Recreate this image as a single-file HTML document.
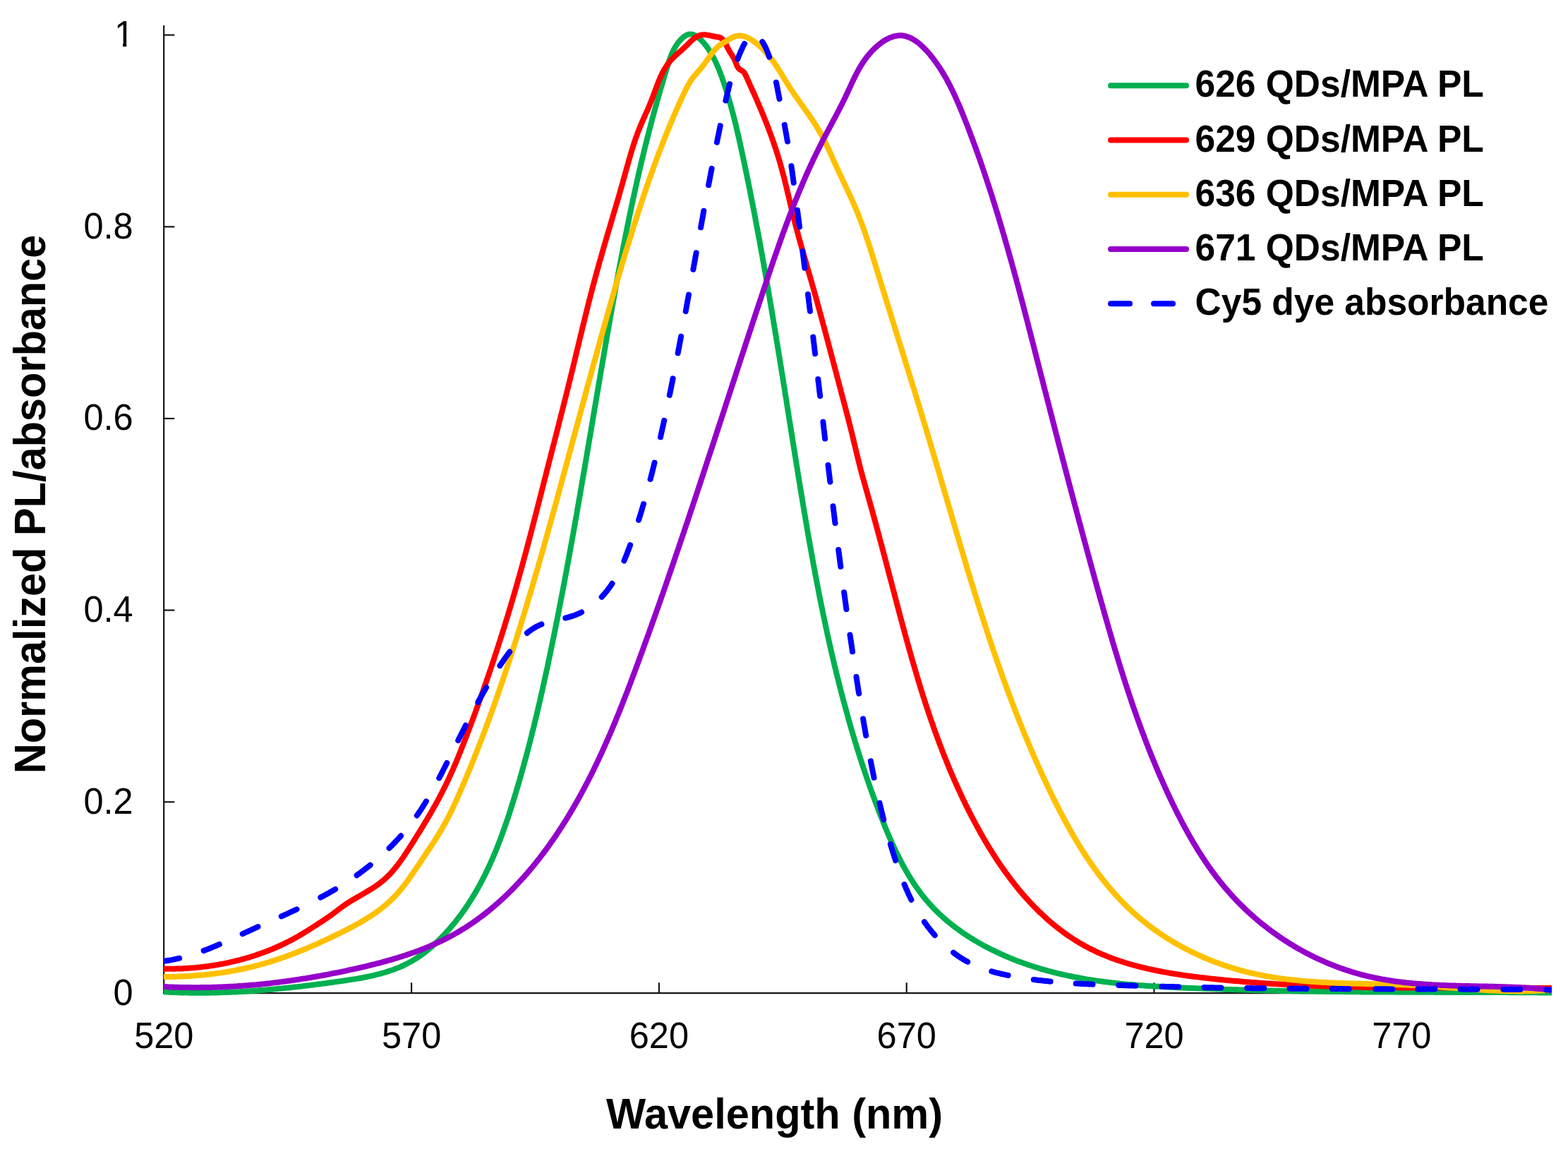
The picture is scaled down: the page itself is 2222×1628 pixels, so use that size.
<!DOCTYPE html><html><head><meta charset="utf-8"><title>Normalized PL/absorbance</title>
<style>html,body{margin:0;padding:0;background:#fff;overflow:hidden;width:2222px;height:1628px;}svg{display:block;font-family:"Liberation Sans",Arial,sans-serif;}</style></head><body>
<svg width="2222" height="1628" viewBox="0 0 2222 1628">
<rect width="2222" height="1628" fill="#fff"/>
<defs><clipPath id="pa"><rect x="232" y="0" width="1967" height="1420"/></clipPath></defs>
<g stroke="#161616" stroke-width="2.2" fill="none">
<path d="M232.2,36 V1407.2 H2199"/>
<path d="M232.2,1136.3 H247.3"/>
<path d="M232.2,864.6 H247.3"/>
<path d="M232.2,593.0 H247.3"/>
<path d="M232.2,321.3 H247.3"/>
<path d="M232.2,49.6 H247.3"/>
<path d="M583.1,1407.2 V1392.3"/>
<path d="M933.9,1407.2 V1392.3"/>
<path d="M1284.7,1407.2 V1392.3"/>
<path d="M1635.5,1407.2 V1392.3"/>
<path d="M1986.3,1407.2 V1392.3"/>
</g>
<g font-size="50.5" fill="#000" text-anchor="end">
<text transform="translate(188.6,1424.3) scale(1,1.04)">0</text>
<text transform="translate(188.6,1152.6) scale(1,1.04)">0.2</text>
<text transform="translate(188.6,880.9) scale(1,1.04)">0.4</text>
<text transform="translate(188.6,609.3) scale(1,1.04)">0.6</text>
<text transform="translate(188.6,337.6) scale(1,1.04)">0.8</text>
<text transform="translate(190.0,65.9) scale(1,1.04)">1</text>
</g>
<rect x="163" y="61.6" width="11.2" height="5.5" fill="#fff"/><rect x="179.3" y="61.6" width="9" height="5.5" fill="#fff"/>
<g font-size="50.5" fill="#000" text-anchor="middle">
<text transform="translate(232.3,1485.0) scale(1,1.04)">520</text>
<text transform="translate(583.1,1485.0) scale(1,1.04)">570</text>
<text transform="translate(933.9,1485.0) scale(1,1.04)">620</text>
<text transform="translate(1284.7,1485.0) scale(1,1.04)">670</text>
<text transform="translate(1635.5,1485.0) scale(1,1.04)">720</text>
<text transform="translate(1986.3,1485.0) scale(1,1.04)">770</text>
</g>
<text transform="translate(1097.5,1598.6) scale(1,1.02)" font-size="59.5" font-weight="bold" text-anchor="middle">Wavelength (nm)</text>
<text transform="translate(64.3,714.5) rotate(-90) scale(1,1.045)" font-size="59.5" font-weight="bold" text-anchor="middle">Normalized PL/absorbance</text>
<g clip-path="url(#pa)" fill="none" stroke-width="8.0" stroke-linejoin="round">
<path stroke="#00B050" d="M230.0,1405.3 L232.0,1405.4 L234.0,1405.5 L236.0,1405.6 L238.0,1405.7 L240.0,1405.8 L242.0,1405.9 L244.0,1406.0 L246.0,1406.1 L248.0,1406.1 L250.0,1406.2 L252.0,1406.3 L254.0,1406.3 L256.0,1406.4 L258.7,1406.5 L261.4,1406.5 L264.0,1406.6 L266.7,1406.6 L269.3,1406.7 L272.0,1406.7 L274.7,1406.7 L277.3,1406.7 L280.0,1406.7 L282.6,1406.8 L285.3,1406.7 L287.9,1406.7 L290.6,1406.7 L293.2,1406.7 L295.8,1406.7 L298.5,1406.6 L301.1,1406.6 L303.8,1406.5 L306.4,1406.5 L309.0,1406.4 L311.7,1406.3 L314.3,1406.2 L317.0,1406.1 L319.6,1406.1 L322.2,1406.0 L324.9,1405.8 L327.5,1405.7 L330.1,1405.6 L332.7,1405.5 L335.4,1405.4 L338.0,1405.2 L340.6,1405.1 L343.3,1404.9 L345.9,1404.8 L348.5,1404.6 L351.1,1404.5 L353.7,1404.3 L356.4,1404.1 L359.0,1403.9 L361.6,1403.7 L364.2,1403.5 L366.9,1403.3 L369.5,1403.1 L372.1,1402.9 L374.7,1402.7 L377.3,1402.5 L380.0,1402.3 L382.6,1402.0 L385.2,1401.8 L387.8,1401.6 L390.4,1401.3 L393.1,1401.1 L395.7,1400.8 L398.3,1400.6 L400.9,1400.3 L403.5,1400.0 L406.2,1399.8 L408.8,1399.5 L411.4,1399.2 L414.0,1398.9 L416.6,1398.6 L419.3,1398.4 L421.9,1398.1 L424.5,1397.8 L427.1,1397.5 L429.8,1397.1 L432.4,1396.8 L435.0,1396.5 L437.6,1396.2 L440.2,1395.9 L442.9,1395.5 L445.5,1395.2 L448.1,1394.9 L450.8,1394.5 L453.4,1394.2 L456.0,1393.9 L458.6,1393.5 L461.3,1393.2 L463.9,1392.8 L466.5,1392.5 L469.2,1392.1 L471.8,1391.7 L474.4,1391.4 L477.1,1391.0 L479.7,1390.6 L482.3,1390.3 L485.0,1389.9 L487.6,1389.5 L489.6,1389.2 L491.6,1388.9 L493.6,1388.6 L495.5,1388.3 L498.2,1387.9 L500.8,1387.5 L503.4,1387.1 L506.1,1386.6 L508.7,1386.2 L511.3,1385.7 L513.9,1385.2 L516.5,1384.7 L519.1,1384.2 L521.7,1383.7 L524.3,1383.1 L526.9,1382.6 L529.5,1382.0 L532.0,1381.4 L534.6,1380.7 L537.1,1380.1 L539.7,1379.4 L542.2,1378.7 L544.7,1378.0 L547.2,1377.2 L549.7,1376.4 L552.2,1375.6 L554.7,1374.8 L557.2,1373.9 L559.6,1373.0 L562.0,1372.1 L564.5,1371.1 L566.9,1370.1 L569.3,1369.0 L571.6,1368.0 L574.0,1366.8 L576.3,1365.7 L578.6,1364.5 L580.9,1363.2 L583.2,1362.0 L585.5,1360.6 L587.7,1359.3 L590.0,1357.9 L592.2,1356.4 L594.4,1354.9 L596.5,1353.4 L598.7,1351.9 L600.8,1350.3 L602.9,1348.7 L605.0,1347.0 L606.6,1345.8 L608.1,1344.5 L609.7,1343.2 L611.2,1341.9 L612.7,1340.6 L614.2,1339.2 L615.7,1337.9 L617.2,1336.5 L618.6,1335.1 L620.1,1333.8 L621.5,1332.4 L623.0,1330.9 L624.4,1329.5 L625.8,1328.1 L627.2,1326.7 L628.6,1325.2 L630.0,1323.8 L631.3,1322.3 L633.1,1320.3 L634.9,1318.4 L636.7,1316.4 L638.4,1314.4 L640.1,1312.3 L641.8,1310.3 L643.5,1308.3 L645.2,1306.2 L646.8,1304.2 L648.4,1302.1 L650.0,1300.0 L651.6,1297.9 L653.2,1295.8 L654.8,1293.7 L656.3,1291.5 L657.8,1289.4 L659.3,1287.2 L660.8,1285.1 L662.2,1282.9 L663.7,1280.7 L665.1,1278.5 L666.5,1276.3 L667.9,1274.1 L669.3,1271.9 L670.7,1269.6 L672.0,1267.4 L673.4,1265.1 L674.7,1262.8 L676.0,1260.6 L677.3,1258.3 L678.6,1256.0 L679.8,1253.7 L681.1,1251.4 L682.3,1249.1 L683.5,1246.7 L684.7,1244.4 L685.9,1242.1 L687.1,1239.7 L688.3,1237.4 L689.4,1235.0 L690.5,1232.6 L691.7,1230.3 L692.8,1227.9 L693.9,1225.5 L695.0,1223.1 L696.0,1220.7 L697.1,1218.3 L698.2,1215.8 L699.2,1213.4 L700.2,1211.0 L701.3,1208.6 L702.3,1206.1 L703.3,1203.7 L704.3,1201.2 L705.2,1198.8 L706.2,1196.3 L707.2,1193.8 L708.1,1191.4 L709.1,1188.9 L710.0,1186.4 L710.9,1183.9 L711.8,1181.4 L712.7,1178.9 L713.6,1176.4 L714.5,1173.9 L715.4,1171.4 L716.3,1168.9 L717.1,1166.4 L718.0,1163.9 L718.9,1161.4 L719.7,1158.9 L720.5,1156.4 L721.4,1153.8 L722.2,1151.3 L723.0,1148.8 L723.8,1146.3 L724.6,1143.7 L725.4,1141.2 L726.2,1138.7 L727.0,1136.1 L727.8,1133.6 L728.6,1131.0 L729.4,1128.5 L730.1,1126.0 L730.9,1123.4 L731.7,1120.9 L732.4,1118.3 L733.2,1115.8 L733.9,1113.3 L734.7,1110.7 L735.4,1108.2 L736.2,1105.6 L736.9,1103.1 L737.6,1100.5 L738.4,1098.0 L739.1,1095.4 L739.8,1092.9 L740.5,1090.3 L741.2,1087.8 L741.9,1085.2 L742.6,1082.7 L743.3,1080.1 L744.0,1077.6 L744.7,1075.0 L745.4,1072.5 L746.1,1069.9 L746.8,1067.4 L747.4,1064.8 L748.1,1062.2 L748.8,1059.7 L749.4,1057.1 L750.1,1054.6 L750.8,1052.0 L751.4,1049.5 L752.1,1046.9 L752.7,1044.3 L753.4,1041.8 L754.0,1039.2 L754.6,1036.6 L755.3,1034.1 L755.9,1031.5 L756.6,1029.0 L757.2,1026.4 L757.8,1023.8 L758.4,1021.3 L759.0,1018.7 L759.7,1016.1 L760.3,1013.6 L760.9,1011.0 L761.5,1008.4 L762.1,1005.8 L762.7,1003.3 L763.3,1000.7 L763.9,998.1 L764.5,995.6 L765.1,993.0 L765.7,990.4 L766.3,987.9 L766.8,985.3 L767.4,982.7 L768.0,980.1 L768.6,977.6 L769.2,975.0 L769.7,972.4 L770.3,969.8 L770.9,967.3 L771.4,964.7 L772.0,962.1 L772.6,959.5 L773.1,956.9 L773.7,954.4 L774.2,951.8 L774.8,949.2 L775.4,946.6 L775.9,944.1 L776.5,941.5 L777.0,938.9 L777.5,936.3 L778.1,933.7 L778.6,931.1 L779.2,928.6 L779.7,926.0 L780.3,923.4 L780.8,920.8 L781.3,918.2 L781.9,915.7 L782.4,913.1 L782.9,910.5 L783.4,907.9 L784.0,905.3 L784.5,902.7 L785.0,900.1 L785.6,897.6 L786.1,895.0 L786.6,892.4 L787.1,889.8 L787.6,887.2 L788.1,884.6 L788.7,882.0 L789.2,879.4 L789.7,876.9 L790.2,874.3 L790.7,871.7 L791.2,869.1 L791.7,866.5 L792.2,863.9 L792.7,861.3 L793.2,858.7 L793.7,856.1 L794.2,853.5 L794.7,851.0 L795.2,848.4 L795.7,845.8 L796.2,843.2 L796.7,840.6 L797.2,838.0 L797.7,835.4 L798.2,832.8 L798.7,830.2 L799.2,827.6 L799.7,825.0 L800.2,822.4 L800.6,819.8 L801.1,817.2 L801.6,814.6 L802.1,812.0 L802.6,809.4 L803.1,806.9 L803.5,804.3 L804.0,801.7 L804.5,799.1 L805.0,796.5 L805.4,793.9 L805.9,791.3 L806.4,788.7 L806.9,786.1 L807.3,783.5 L807.8,780.9 L808.3,778.3 L808.7,775.7 L809.2,773.1 L809.7,770.5 L810.2,767.9 L810.6,765.3 L811.1,762.7 L811.5,760.1 L812.0,757.5 L812.5,754.9 L812.9,752.3 L813.4,749.7 L813.9,747.1 L814.3,744.5 L814.8,741.9 L815.2,739.3 L815.7,736.7 L816.2,734.1 L816.6,731.5 L817.1,728.9 L817.5,726.3 L818.0,723.7 L818.4,721.1 L818.9,718.5 L819.3,715.9 L819.8,713.3 L820.2,710.7 L820.7,708.1 L821.1,705.4 L821.6,702.8 L822.1,700.2 L822.5,697.6 L822.9,695.0 L823.4,692.4 L823.8,689.8 L824.3,687.2 L824.7,684.6 L825.2,682.0 L825.6,679.4 L826.1,676.8 L826.5,674.2 L827.0,671.6 L827.4,669.0 L827.9,666.4 L828.3,663.8 L828.8,661.2 L829.2,658.6 L829.6,656.0 L830.1,653.4 L830.5,650.8 L831.0,648.1 L831.4,645.5 L831.9,642.9 L832.3,640.3 L832.7,637.7 L833.2,635.1 L833.6,632.5 L834.1,629.9 L834.5,627.3 L834.9,624.7 L835.4,622.1 L835.8,619.5 L836.3,616.9 L836.7,614.3 L837.2,611.7 L837.6,609.1 L838.0,606.4 L838.5,603.8 L838.9,601.2 L839.4,598.6 L839.8,596.0 L840.2,593.4 L840.7,590.8 L841.1,588.2 L841.6,585.6 L842.0,583.0 L842.4,580.4 L842.9,577.8 L843.3,575.2 L843.8,572.6 L844.2,569.9 L844.6,567.3 L845.1,564.7 L845.5,562.1 L846.0,559.5 L846.4,556.9 L846.9,554.3 L847.3,551.7 L847.7,549.1 L848.2,546.5 L848.6,543.9 L849.1,541.3 L849.5,538.7 L850.0,536.1 L850.4,533.4 L850.8,530.8 L851.3,528.2 L851.7,525.6 L852.2,523.0 L852.6,520.4 L853.1,517.8 L853.5,515.2 L854.0,512.6 L854.4,510.0 L854.9,507.4 L855.3,504.8 L855.8,502.2 L856.2,499.6 L856.7,497.0 L857.1,494.4 L857.6,491.7 L858.0,489.1 L858.5,486.5 L858.9,483.9 L859.4,481.3 L859.8,478.7 L860.3,476.1 L860.7,473.5 L861.2,470.9 L861.6,468.3 L862.1,465.7 L862.6,463.1 L863.0,460.5 L863.5,457.9 L863.9,455.3 L864.4,452.7 L864.9,450.1 L865.3,447.5 L865.8,444.9 L866.2,442.3 L866.7,439.6 L867.2,437.0 L867.6,434.4 L868.1,431.8 L868.6,429.2 L869.0,426.6 L869.5,424.0 L870.0,421.4 L870.4,418.8 L870.9,416.2 L871.4,413.6 L871.9,411.0 L872.3,408.4 L872.8,405.8 L873.3,403.2 L873.8,400.6 L874.2,398.0 L874.7,395.4 L875.2,392.8 L875.7,390.2 L876.2,387.6 L876.6,385.0 L877.1,382.4 L877.6,379.8 L878.1,377.2 L878.6,374.6 L879.1,372.0 L879.6,369.4 L880.1,366.8 L880.6,364.2 L881.1,361.6 L881.6,359.0 L882.1,356.4 L882.6,353.8 L883.1,351.2 L883.6,348.6 L884.1,346.1 L884.6,343.5 L885.1,340.9 L885.6,338.3 L886.1,335.7 L886.6,333.1 L887.1,330.5 L887.7,327.9 L888.2,325.3 L888.7,322.7 L889.2,320.1 L889.8,317.6 L890.3,315.0 L890.8,312.4 L891.3,309.8 L891.9,307.2 L892.4,304.6 L893.0,302.0 L893.5,299.4 L894.0,296.9 L894.6,294.3 L895.1,291.7 L895.7,289.1 L896.2,286.5 L896.8,284.0 L897.3,281.4 L897.9,278.8 L898.4,276.2 L899.0,273.6 L899.6,271.1 L900.1,268.5 L900.7,265.9 L901.3,263.3 L901.9,260.8 L902.4,258.2 L903.0,255.6 L903.6,253.0 L904.2,250.5 L904.8,247.9 L905.3,245.3 L905.9,242.7 L906.5,240.2 L907.1,237.6 L907.7,235.0 L908.3,232.5 L908.9,229.9 L909.5,227.3 L910.2,224.8 L910.8,222.2 L911.4,219.7 L912.0,217.1 L912.6,214.5 L913.2,212.0 L913.9,209.4 L914.5,206.9 L915.1,204.3 L915.8,201.7 L916.4,199.2 L917.1,196.6 L917.7,194.1 L918.4,191.5 L919.0,189.0 L919.7,186.4 L920.3,183.9 L921.0,181.3 L921.7,178.8 L922.3,176.2 L923.0,173.7 L923.7,171.2 L924.3,168.6 L925.0,166.1 L925.7,163.5 L926.4,161.0 L927.1,158.4 L927.8,155.9 L928.5,153.4 L929.2,150.8 L929.9,148.3 L930.6,145.7 L931.3,143.2 L932.0,140.7 L932.7,138.1 L933.5,135.6 L934.2,133.0 L934.9,130.5 L935.6,127.9 L936.4,125.4 L937.1,122.9 L937.9,120.3 L938.6,117.8 L939.4,115.2 L940.1,112.7 L940.9,110.1 L941.6,107.6 L942.4,105.0 L943.2,102.5 L943.7,100.6 L944.3,98.6 L944.9,96.7 L945.5,94.8 L946.1,92.9 L946.7,91.0 L947.3,89.1 L947.9,87.2 L948.8,84.6 L949.7,82.1 L950.6,79.7 L951.6,77.2 L952.7,74.8 L953.8,72.4 L955.0,70.0 L956.3,67.7 L957.6,65.5 L959.1,63.3 L960.6,61.1 L961.8,59.5 L963.1,58.0 L964.5,56.5 L965.9,55.0 L967.4,53.6 L968.9,52.3 L971.1,50.7 L973.3,49.5 L975.5,48.7 L977.8,48.4 L980.1,48.5 L982.5,49.2 L984.8,50.2 L987.0,51.5 L988.7,52.7 L990.3,54.0 L991.9,55.3 L993.4,56.7 L994.8,58.1 L996.2,59.6 L997.6,61.2 L998.9,62.7 L1000.2,64.4 L1001.4,66.0 L1002.6,67.7 L1003.8,69.3 L1004.9,71.0 L1006.0,72.8 L1007.0,74.5 L1008.1,76.2 L1009.1,78.0 L1010.0,79.7 L1011.3,82.1 L1012.5,84.4 L1013.7,86.8 L1014.8,89.2 L1015.9,91.6 L1016.9,94.0 L1018.0,96.4 L1019.0,98.9 L1019.9,101.3 L1020.9,103.8 L1021.8,106.2 L1022.7,108.7 L1023.6,111.2 L1024.4,113.7 L1025.3,116.2 L1026.1,118.6 L1027.0,121.1 L1027.8,123.6 L1028.6,126.1 L1029.4,128.7 L1030.2,131.2 L1030.9,133.7 L1031.7,136.2 L1032.4,138.7 L1033.2,141.3 L1033.9,143.8 L1034.6,146.3 L1035.4,148.9 L1036.1,151.4 L1036.8,153.9 L1037.4,156.5 L1038.1,159.0 L1038.8,161.6 L1039.4,164.2 L1040.1,166.7 L1040.8,169.3 L1041.4,171.8 L1042.0,174.4 L1042.7,177.0 L1043.3,179.5 L1043.9,182.1 L1044.5,184.7 L1045.1,187.3 L1045.7,189.8 L1046.3,192.4 L1046.9,195.0 L1047.5,197.6 L1048.0,200.2 L1048.6,202.7 L1049.2,205.3 L1049.7,207.9 L1050.3,210.5 L1050.9,213.1 L1051.4,215.7 L1052.0,218.3 L1052.5,220.9 L1053.1,223.4 L1053.6,226.0 L1054.2,228.6 L1054.7,231.2 L1055.3,233.8 L1055.8,236.4 L1056.3,239.0 L1056.9,241.6 L1057.4,244.2 L1058.0,246.8 L1058.5,249.3 L1059.0,251.9 L1059.5,254.5 L1060.1,257.1 L1060.6,259.7 L1061.1,262.3 L1061.6,264.9 L1062.2,267.5 L1062.7,270.1 L1063.2,272.7 L1063.7,275.3 L1064.2,277.9 L1064.7,280.5 L1065.2,283.0 L1065.7,285.6 L1066.3,288.2 L1066.8,290.8 L1067.3,293.4 L1067.8,296.0 L1068.3,298.6 L1068.8,301.2 L1069.3,303.8 L1069.8,306.4 L1070.3,309.0 L1070.7,311.6 L1071.2,314.2 L1071.7,316.8 L1072.2,319.4 L1072.7,322.0 L1073.2,324.6 L1073.7,327.2 L1074.2,329.8 L1074.6,332.4 L1075.1,334.9 L1075.6,337.5 L1076.1,340.1 L1076.6,342.7 L1077.0,345.3 L1077.5,347.9 L1078.0,350.5 L1078.4,353.1 L1078.9,355.7 L1079.4,358.3 L1079.9,360.9 L1080.3,363.5 L1080.8,366.1 L1081.2,368.7 L1081.7,371.3 L1082.2,373.9 L1082.6,376.5 L1083.1,379.1 L1083.6,381.7 L1084.0,384.3 L1084.5,386.9 L1084.9,389.5 L1085.4,392.1 L1085.8,394.7 L1086.3,397.3 L1086.7,399.9 L1087.2,402.5 L1087.6,405.1 L1088.1,407.7 L1088.5,410.3 L1089.0,412.9 L1089.4,415.5 L1089.9,418.1 L1090.3,420.7 L1090.8,423.3 L1091.2,425.9 L1091.6,428.5 L1092.1,431.1 L1092.5,433.7 L1093.0,436.3 L1093.4,438.9 L1093.8,441.5 L1094.3,444.1 L1094.7,446.7 L1095.1,449.3 L1095.6,451.9 L1096.0,454.5 L1096.4,457.2 L1096.9,459.8 L1097.3,462.4 L1097.7,465.0 L1098.2,467.6 L1098.6,470.2 L1099.0,472.8 L1099.5,475.4 L1099.9,478.0 L1100.3,480.6 L1100.7,483.2 L1101.2,485.8 L1101.6,488.4 L1102.0,491.0 L1102.4,493.6 L1102.9,496.2 L1103.3,498.8 L1103.7,501.4 L1104.1,504.0 L1104.6,506.6 L1105.0,509.2 L1105.4,511.8 L1105.8,514.5 L1106.2,517.1 L1106.7,519.7 L1107.1,522.3 L1107.5,524.9 L1107.9,527.5 L1108.3,530.1 L1108.8,532.7 L1109.2,535.3 L1109.6,537.9 L1110.0,540.5 L1110.4,543.1 L1110.8,545.7 L1111.3,548.3 L1111.7,550.9 L1112.1,553.5 L1112.5,556.2 L1112.9,558.8 L1113.3,561.4 L1113.8,564.0 L1114.2,566.6 L1114.6,569.2 L1115.0,571.8 L1115.4,574.4 L1115.8,577.0 L1116.2,579.6 L1116.7,582.2 L1117.1,584.8 L1117.5,587.5 L1117.9,590.1 L1118.3,592.7 L1118.7,595.3 L1119.1,597.9 L1119.6,600.5 L1120.0,603.1 L1120.4,605.7 L1120.8,608.3 L1121.2,610.9 L1121.6,613.5 L1122.1,616.1 L1122.5,618.8 L1122.9,621.4 L1123.3,624.0 L1123.7,626.6 L1124.1,629.2 L1124.5,631.8 L1125.0,634.4 L1125.4,637.0 L1125.8,639.6 L1126.2,642.2 L1126.6,644.9 L1127.0,647.5 L1127.5,650.1 L1127.9,652.7 L1128.3,655.3 L1128.7,657.9 L1129.1,660.5 L1129.6,663.1 L1130.0,665.7 L1130.4,668.3 L1130.8,671.0 L1131.2,673.6 L1131.7,676.2 L1132.1,678.8 L1132.5,681.4 L1132.9,684.0 L1133.4,686.6 L1133.8,689.2 L1134.2,691.8 L1134.6,694.5 L1135.1,697.1 L1135.5,699.7 L1135.9,702.3 L1136.4,704.9 L1136.8,707.5 L1137.2,710.1 L1137.7,712.7 L1138.1,715.3 L1138.5,717.9 L1139.0,720.5 L1139.4,723.2 L1139.8,725.8 L1140.3,728.4 L1140.7,731.0 L1141.2,733.6 L1141.6,736.2 L1142.0,738.8 L1142.5,741.4 L1142.9,744.0 L1143.4,746.6 L1143.8,749.2 L1144.3,751.8 L1144.7,754.4 L1145.2,757.1 L1145.6,759.7 L1146.1,762.3 L1146.6,764.9 L1147.0,767.5 L1147.5,770.1 L1147.9,772.7 L1148.4,775.3 L1148.9,777.9 L1149.3,780.5 L1149.8,783.1 L1150.3,785.7 L1150.7,788.3 L1151.2,790.9 L1151.7,793.5 L1152.1,796.1 L1152.6,798.7 L1153.1,801.3 L1153.6,803.9 L1154.1,806.5 L1154.6,809.1 L1155.0,811.7 L1155.5,814.3 L1156.0,816.9 L1156.5,819.5 L1157.0,822.1 L1157.5,824.7 L1158.0,827.3 L1158.5,829.9 L1159.0,832.5 L1159.5,835.1 L1160.0,837.7 L1160.5,840.3 L1161.0,842.9 L1161.5,845.5 L1162.0,848.0 L1162.6,850.6 L1163.1,853.2 L1163.6,855.8 L1164.1,858.4 L1164.7,861.0 L1165.2,863.6 L1165.7,866.2 L1166.2,868.8 L1166.8,871.4 L1167.3,873.9 L1167.9,876.5 L1168.4,879.1 L1168.9,881.7 L1169.5,884.3 L1170.0,886.9 L1170.6,889.5 L1171.2,892.0 L1171.7,894.6 L1172.3,897.2 L1172.8,899.8 L1173.4,902.4 L1174.0,904.9 L1174.5,907.5 L1175.1,910.1 L1175.7,912.7 L1176.3,915.2 L1176.9,917.8 L1177.4,920.4 L1178.0,923.0 L1178.6,925.5 L1179.2,928.1 L1179.8,930.7 L1180.4,933.3 L1181.0,935.8 L1181.6,938.4 L1182.2,941.0 L1182.8,943.5 L1183.5,946.1 L1184.1,948.7 L1184.7,951.2 L1185.3,953.8 L1186.0,956.4 L1186.6,958.9 L1187.2,961.5 L1187.9,964.0 L1188.5,966.6 L1189.2,969.2 L1189.8,971.7 L1190.5,974.3 L1191.1,976.8 L1191.8,979.4 L1192.4,982.0 L1193.1,984.5 L1193.8,987.1 L1194.4,989.6 L1195.1,992.2 L1195.8,994.7 L1196.5,997.3 L1197.2,999.8 L1197.9,1002.4 L1198.6,1004.9 L1199.3,1007.5 L1200.0,1010.0 L1200.7,1012.5 L1201.4,1015.1 L1202.1,1017.6 L1202.8,1020.2 L1203.5,1022.7 L1204.2,1025.2 L1205.0,1027.8 L1205.7,1030.3 L1206.4,1032.9 L1207.2,1035.4 L1207.9,1037.9 L1208.7,1040.5 L1209.4,1043.0 L1210.2,1045.5 L1211.0,1048.0 L1211.7,1050.6 L1212.5,1053.1 L1213.3,1055.6 L1214.0,1058.1 L1214.8,1060.7 L1215.6,1063.2 L1216.4,1065.7 L1217.2,1068.2 L1218.0,1070.7 L1218.8,1073.3 L1219.6,1075.8 L1220.4,1078.3 L1221.2,1080.8 L1222.1,1083.3 L1222.9,1085.8 L1223.7,1088.3 L1224.6,1090.8 L1225.4,1093.4 L1226.2,1095.9 L1227.1,1098.4 L1227.9,1100.9 L1228.8,1103.4 L1229.7,1105.9 L1230.5,1108.4 L1231.4,1110.9 L1232.3,1113.4 L1233.2,1115.9 L1234.0,1118.4 L1234.9,1120.9 L1235.8,1123.3 L1236.7,1125.8 L1237.6,1128.3 L1238.6,1130.8 L1239.5,1133.3 L1240.4,1135.8 L1241.3,1138.3 L1242.3,1140.8 L1243.2,1143.2 L1244.1,1145.7 L1245.1,1148.2 L1246.0,1150.7 L1247.0,1153.1 L1247.9,1155.6 L1248.9,1158.1 L1249.9,1160.6 L1250.9,1163.0 L1251.8,1165.5 L1252.8,1168.0 L1253.8,1170.4 L1254.8,1172.9 L1255.8,1175.3 L1256.9,1177.8 L1257.9,1180.2 L1258.9,1182.7 L1260.0,1185.1 L1261.0,1187.5 L1262.1,1190.0 L1263.2,1192.4 L1264.2,1194.8 L1265.3,1197.2 L1266.4,1199.6 L1267.5,1202.0 L1268.7,1204.4 L1269.8,1206.8 L1270.9,1209.2 L1272.1,1211.5 L1273.3,1213.9 L1274.5,1216.3 L1275.7,1218.6 L1276.9,1220.9 L1278.1,1223.2 L1279.3,1225.6 L1280.6,1227.9 L1281.9,1230.1 L1283.1,1232.4 L1284.4,1234.7 L1285.8,1236.9 L1287.1,1239.2 L1288.4,1241.4 L1289.8,1243.6 L1291.2,1245.9 L1292.6,1248.0 L1294.0,1250.2 L1295.4,1252.4 L1296.9,1254.5 L1298.4,1256.7 L1299.9,1258.8 L1301.4,1260.9 L1302.9,1263.0 L1304.5,1265.1 L1306.0,1267.1 L1307.6,1269.2 L1309.2,1271.2 L1310.9,1273.2 L1312.5,1275.2 L1314.2,1277.2 L1315.9,1279.1 L1317.6,1281.1 L1319.4,1283.0 L1321.2,1284.9 L1322.9,1286.8 L1324.8,1288.7 L1326.6,1290.5 L1328.5,1292.3 L1330.3,1294.1 L1332.2,1295.9 L1334.2,1297.7 L1336.1,1299.5 L1338.1,1301.2 L1340.0,1302.9 L1342.0,1304.6 L1344.1,1306.3 L1346.1,1308.0 L1348.1,1309.6 L1350.2,1311.2 L1352.3,1312.9 L1354.4,1314.5 L1356.5,1316.0 L1358.7,1317.6 L1360.8,1319.1 L1363.0,1320.7 L1365.2,1322.2 L1367.4,1323.7 L1369.6,1325.1 L1371.8,1326.6 L1373.5,1327.7 L1375.2,1328.7 L1376.9,1329.8 L1378.6,1330.8 L1380.3,1331.9 L1382.1,1332.9 L1383.8,1333.9 L1385.5,1334.9 L1387.3,1335.9 L1389.0,1336.9 L1390.8,1337.9 L1392.5,1338.9 L1394.3,1339.9 L1396.1,1340.8 L1397.9,1341.8 L1399.7,1342.7 L1401.5,1343.6 L1403.3,1344.5 L1405.1,1345.5 L1406.9,1346.3 L1408.7,1347.2 L1410.5,1348.1 L1412.3,1349.0 L1414.2,1349.8 L1416.0,1350.7 L1417.8,1351.5 L1419.7,1352.4 L1421.5,1353.2 L1423.4,1354.0 L1425.2,1354.8 L1427.1,1355.6 L1429.0,1356.4 L1430.8,1357.2 L1432.7,1357.9 L1434.6,1358.7 L1436.5,1359.5 L1438.4,1360.2 L1440.2,1360.9 L1442.1,1361.7 L1444.0,1362.4 L1445.9,1363.1 L1447.8,1363.8 L1449.7,1364.5 L1451.6,1365.1 L1453.5,1365.8 L1455.4,1366.5 L1457.3,1367.1 L1459.3,1367.8 L1461.2,1368.4 L1463.1,1369.0 L1465.0,1369.6 L1466.9,1370.2 L1468.8,1370.8 L1470.7,1371.4 L1472.7,1372.0 L1474.6,1372.6 L1476.5,1373.2 L1479.0,1373.9 L1481.6,1374.6 L1484.2,1375.3 L1486.7,1376.0 L1489.3,1376.7 L1491.9,1377.4 L1494.4,1378.0 L1497.0,1378.7 L1499.6,1379.3 L1502.1,1379.9 L1504.7,1380.5 L1507.3,1381.1 L1509.9,1381.6 L1512.4,1382.2 L1515.0,1382.8 L1517.6,1383.3 L1520.2,1383.8 L1522.7,1384.3 L1525.3,1384.8 L1527.9,1385.3 L1530.5,1385.8 L1533.1,1386.2 L1535.7,1386.7 L1538.2,1387.1 L1540.8,1387.6 L1543.4,1388.0 L1546.0,1388.4 L1548.6,1388.8 L1551.2,1389.2 L1553.8,1389.6 L1556.4,1389.9 L1559.0,1390.3 L1561.6,1390.6 L1564.2,1391.0 L1566.8,1391.3 L1569.4,1391.6 L1572.0,1391.9 L1574.6,1392.3 L1577.2,1392.6 L1579.8,1392.8 L1582.4,1393.1 L1585.0,1393.4 L1587.6,1393.7 L1590.2,1393.9 L1592.8,1394.2 L1595.4,1394.4 L1598.0,1394.7 L1600.6,1394.9 L1603.2,1395.1 L1605.8,1395.3 L1608.4,1395.5 L1611.0,1395.8 L1613.6,1396.0 L1616.3,1396.2 L1618.9,1396.3 L1621.5,1396.5 L1624.1,1396.7 L1626.7,1396.9 L1629.3,1397.1 L1632.0,1397.2 L1634.6,1397.4 L1637.2,1397.5 L1639.8,1397.7 L1642.4,1397.8 L1645.0,1398.0 L1647.7,1398.1 L1650.3,1398.3 L1652.9,1398.4 L1655.5,1398.5 L1658.2,1398.7 L1660.8,1398.8 L1663.4,1398.9 L1666.0,1399.1 L1668.7,1399.2 L1671.3,1399.3 L1673.9,1399.4 L1676.5,1399.5 L1679.2,1399.7 L1681.8,1399.8 L1684.4,1399.9 L1687.1,1400.0 L1689.7,1400.1 L1692.3,1400.2 L1695.0,1400.3 L1697.6,1400.4 L1700.2,1400.5 L1702.9,1400.6 L1705.5,1400.7 L1708.1,1400.8 L1710.8,1400.9 L1713.4,1401.0 L1716.0,1401.1 L1718.7,1401.2 L1721.3,1401.3 L1723.9,1401.4 L1726.6,1401.5 L1729.2,1401.6 L1731.9,1401.7 L1734.5,1401.8 L1737.1,1401.9 L1739.8,1401.9 L1742.4,1402.0 L1745.0,1402.1 L1747.7,1402.2 L1750.3,1402.3 L1753.0,1402.3 L1755.6,1402.4 L1758.3,1402.5 L1760.9,1402.6 L1763.5,1402.7 L1766.2,1402.7 L1768.8,1402.8 L1771.5,1402.9 L1774.1,1402.9 L1776.8,1403.0 L1779.4,1403.1 L1782.1,1403.1 L1784.7,1403.2 L1787.3,1403.3 L1790.0,1403.3 L1792.6,1403.4 L1795.3,1403.4 L1797.9,1403.5 L1800.6,1403.6 L1803.2,1403.6 L1805.9,1403.7 L1808.5,1403.7 L1811.2,1403.8 L1813.8,1403.8 L1816.5,1403.9 L1819.1,1403.9 L1821.8,1404.0 L1824.4,1404.0 L1827.1,1404.1 L1829.7,1404.1 L1832.4,1404.2 L1835.0,1404.2 L1837.7,1404.3 L1840.3,1404.3 L1843.0,1404.4 L1845.6,1404.4 L1848.3,1404.5 L1850.9,1404.5 L1853.6,1404.5 L1856.2,1404.6 L1858.9,1404.6 L1861.5,1404.6 L1864.2,1404.7 L1866.8,1404.7 L1869.5,1404.8 L1872.1,1404.8 L1874.8,1404.8 L1877.4,1404.9 L1880.1,1404.9 L1882.8,1404.9 L1885.4,1404.9 L1888.1,1405.0 L1890.7,1405.0 L1893.4,1405.0 L1896.0,1405.1 L1898.7,1405.1 L1901.3,1405.1 L1904.0,1405.1 L1906.6,1405.2 L1909.3,1405.2 L1911.9,1405.2 L1914.6,1405.2 L1917.2,1405.3 L1919.9,1405.3 L1922.6,1405.3 L1925.2,1405.3 L1927.9,1405.4 L1930.5,1405.4 L1933.2,1405.4 L1935.8,1405.4 L1938.5,1405.4 L1941.1,1405.4 L1943.8,1405.5 L1946.4,1405.5 L1949.1,1405.5 L1951.7,1405.5 L1954.4,1405.5 L1957.0,1405.5 L1959.7,1405.6 L1962.3,1405.6 L1965.0,1405.6 L1967.7,1405.6 L1970.3,1405.6 L1973.0,1405.6 L1975.6,1405.6 L1978.3,1405.7 L1980.9,1405.7 L1983.6,1405.7 L1986.2,1405.7 L1988.9,1405.7 L1991.5,1405.7 L1994.2,1405.7 L1996.8,1405.7 L1999.5,1405.7 L2002.1,1405.8 L2004.8,1405.8 L2007.4,1405.8 L2010.1,1405.8 L2012.7,1405.8 L2015.4,1405.8 L2018.0,1405.8 L2020.7,1405.8 L2023.3,1405.8 L2026.0,1405.8 L2028.6,1405.8 L2031.3,1405.8 L2033.9,1405.9 L2036.6,1405.9 L2039.2,1405.9 L2041.8,1405.9 L2044.5,1405.9 L2047.1,1405.9 L2049.8,1405.9 L2052.4,1405.9 L2055.1,1405.9 L2057.7,1405.9 L2060.4,1405.9 L2063.0,1405.9 L2065.7,1405.9 L2068.3,1405.9 L2070.9,1405.9 L2073.6,1406.0 L2076.2,1406.0 L2078.9,1406.0 L2081.5,1406.0 L2084.2,1406.0 L2086.8,1406.0 L2089.4,1406.0 L2092.1,1406.0 L2094.7,1406.0 L2097.4,1406.0 L2100.0,1406.0 L2102.6,1406.0 L2105.3,1406.0 L2107.9,1406.0 L2110.5,1406.1 L2113.2,1406.1 L2115.8,1406.1 L2118.5,1406.1 L2121.1,1406.1 L2123.7,1406.1 L2126.4,1406.1 L2129.0,1406.1 L2131.6,1406.1 L2134.3,1406.1 L2136.9,1406.1 L2139.5,1406.2 L2142.2,1406.2 L2144.8,1406.2 L2147.4,1406.2 L2150.1,1406.2 L2152.7,1406.2 L2155.3,1406.2 L2157.9,1406.2 L2160.6,1406.2 L2163.2,1406.3 L2165.8,1406.3 L2168.4,1406.3 L2171.1,1406.3 L2173.7,1406.3 L2176.3,1406.3 L2178.9,1406.3 L2181.6,1406.4 L2184.2,1406.4 L2186.8,1406.4 L2189.4,1406.4 L2192.1,1406.4 L2194.7,1406.4 L2197.3,1406.5 L2199.3,1406.5"/>
<path stroke="#FF0000" d="M230.0,1372.7 L232.4,1372.8 L234.9,1372.8 L237.4,1372.8 L239.9,1372.8 L242.4,1372.8 L244.9,1372.8 L247.4,1372.7 L249.9,1372.6 L252.4,1372.6 L254.9,1372.5 L257.4,1372.4 L259.9,1372.2 L262.4,1372.1 L264.9,1372.0 L267.4,1371.8 L269.9,1371.6 L272.4,1371.4 L274.9,1371.2 L277.4,1371.0 L279.9,1370.7 L282.4,1370.5 L284.9,1370.2 L287.4,1369.9 L289.9,1369.6 L292.4,1369.3 L294.8,1369.0 L297.3,1368.6 L299.8,1368.3 L302.3,1367.9 L304.7,1367.5 L307.2,1367.1 L309.7,1366.7 L312.1,1366.2 L314.6,1365.8 L317.1,1365.3 L319.5,1364.8 L322.0,1364.3 L324.4,1363.8 L326.9,1363.2 L329.3,1362.7 L331.7,1362.1 L334.2,1361.5 L336.6,1360.9 L339.0,1360.3 L341.4,1359.7 L343.8,1359.0 L346.2,1358.4 L348.6,1357.7 L351.0,1357.0 L353.4,1356.3 L355.8,1355.5 L358.2,1354.8 L360.6,1354.0 L363.0,1353.2 L365.3,1352.4 L367.7,1351.6 L370.0,1350.8 L372.4,1349.9 L374.7,1349.1 L377.1,1348.2 L379.4,1347.3 L381.7,1346.4 L384.0,1345.4 L386.3,1344.5 L388.6,1343.5 L390.9,1342.5 L393.2,1341.5 L395.5,1340.5 L397.7,1339.5 L400.0,1338.4 L402.3,1337.3 L404.5,1336.2 L406.7,1335.1 L409.0,1334.0 L411.2,1332.8 L413.4,1331.7 L415.6,1330.5 L417.8,1329.3 L420.0,1328.1 L422.2,1326.9 L424.3,1325.6 L426.5,1324.3 L428.7,1323.0 L430.8,1321.7 L432.9,1320.4 L435.1,1319.1 L437.2,1317.8 L439.3,1316.4 L441.4,1315.1 L443.6,1313.7 L445.7,1312.4 L447.8,1311.0 L449.9,1309.6 L452.0,1308.2 L454.1,1306.9 L456.2,1305.5 L458.3,1304.1 L460.4,1302.7 L462.4,1301.3 L464.5,1299.9 L466.6,1298.5 L468.6,1297.1 L470.6,1295.6 L472.6,1294.1 L474.6,1292.6 L476.6,1291.1 L478.5,1289.6 L480.5,1288.1 L482.5,1286.6 L484.5,1285.1 L486.5,1283.7 L488.5,1282.3 L490.6,1280.9 L492.7,1279.5 L494.8,1278.2 L496.9,1276.8 L499.1,1275.5 L501.3,1274.2 L503.4,1273.0 L505.6,1271.7 L507.8,1270.4 L510.0,1269.2 L512.2,1267.9 L514.3,1266.6 L516.5,1265.4 L518.7,1264.1 L520.9,1262.8 L523.0,1261.5 L525.2,1260.2 L527.3,1258.9 L529.4,1257.5 L531.5,1256.1 L533.5,1254.7 L535.6,1253.3 L537.6,1251.8 L539.5,1250.3 L541.5,1248.8 L543.4,1247.2 L545.2,1245.6 L547.1,1243.9 L548.9,1242.2 L550.6,1240.5 L552.3,1238.7 L554.0,1236.9 L555.7,1235.0 L557.3,1233.2 L558.9,1231.3 L560.5,1229.3 L562.1,1227.4 L563.6,1225.4 L565.1,1223.4 L566.6,1221.4 L568.1,1219.3 L569.5,1217.3 L571.0,1215.2 L572.4,1213.1 L573.8,1211.0 L575.2,1208.9 L576.6,1206.8 L577.9,1204.7 L579.3,1202.6 L580.6,1200.5 L582.0,1198.3 L583.3,1196.2 L584.7,1194.1 L586.0,1192.0 L587.4,1189.9 L588.7,1187.7 L590.0,1185.6 L591.3,1183.5 L592.6,1181.4 L594.0,1179.3 L595.3,1177.2 L596.6,1175.1 L597.9,1172.9 L599.2,1170.8 L600.5,1168.7 L601.7,1166.6 L603.0,1164.4 L604.3,1162.3 L605.6,1160.2 L606.8,1158.0 L608.1,1155.9 L609.4,1153.7 L610.6,1151.5 L611.9,1149.4 L613.1,1147.2 L614.3,1145.0 L615.6,1142.8 L616.8,1140.7 L618.0,1138.5 L619.2,1136.3 L620.4,1134.1 L621.6,1131.8 L622.8,1129.6 L623.9,1127.4 L625.1,1125.2 L626.2,1123.0 L627.4,1120.7 L628.5,1118.5 L629.7,1116.2 L630.8,1114.0 L631.9,1111.8 L633.0,1109.5 L634.1,1107.2 L635.1,1105.0 L636.2,1102.7 L637.2,1100.4 L638.3,1098.2 L639.3,1095.9 L640.3,1093.6 L641.4,1091.3 L642.4,1089.0 L643.3,1086.7 L644.3,1084.4 L645.3,1082.1 L646.3,1079.8 L647.2,1077.5 L648.2,1075.2 L649.2,1072.9 L650.1,1070.6 L651.0,1068.3 L652.0,1065.9 L652.9,1063.6 L653.8,1061.3 L654.7,1059.0 L655.6,1056.6 L656.6,1054.3 L657.5,1052.0 L658.4,1049.7 L659.3,1047.3 L660.2,1045.0 L661.1,1042.7 L662.0,1040.3 L662.8,1038.0 L663.7,1035.7 L664.6,1033.3 L665.5,1031.0 L666.4,1028.7 L667.3,1026.3 L668.1,1024.0 L669.0,1021.6 L669.9,1019.3 L670.8,1016.9 L671.6,1014.6 L672.5,1012.3 L673.4,1009.9 L674.2,1007.6 L675.1,1005.2 L675.9,1002.9 L676.8,1000.5 L677.6,998.2 L678.5,995.8 L679.3,993.5 L680.2,991.1 L681.0,988.8 L681.9,986.4 L682.7,984.1 L683.5,981.7 L684.4,979.3 L685.2,977.0 L686.0,974.6 L686.9,972.3 L687.7,969.9 L688.5,967.5 L689.3,965.2 L690.1,962.8 L691.0,960.5 L691.8,958.1 L692.6,955.7 L693.4,953.4 L694.2,951.0 L695.0,948.6 L695.8,946.3 L696.6,943.9 L697.4,941.5 L698.2,939.1 L699.0,936.8 L699.8,934.4 L700.5,932.0 L701.3,929.6 L702.1,927.3 L702.9,924.9 L703.7,922.5 L704.4,920.1 L705.2,917.8 L706.0,915.4 L706.7,913.0 L707.5,910.6 L708.3,908.2 L709.0,905.9 L709.8,903.5 L710.6,901.1 L711.3,898.7 L712.1,896.3 L712.8,893.9 L713.6,891.6 L714.3,889.2 L715.0,886.8 L715.8,884.4 L716.5,882.0 L717.3,879.6 L718.0,877.2 L718.7,874.8 L719.5,872.4 L720.2,870.0 L720.9,867.6 L721.6,865.3 L722.3,862.9 L723.1,860.5 L723.8,858.1 L724.5,855.7 L725.2,853.3 L725.9,850.9 L726.6,848.5 L727.3,846.1 L728.0,843.7 L728.7,841.3 L729.4,838.9 L730.1,836.5 L730.8,834.1 L731.5,831.7 L732.2,829.3 L732.9,826.8 L733.6,824.4 L734.2,822.0 L734.9,819.6 L735.6,817.2 L736.3,814.8 L736.9,812.4 L737.6,810.0 L738.3,807.6 L738.9,805.2 L739.6,802.8 L740.3,800.4 L740.9,797.9 L741.6,795.5 L742.2,793.1 L742.9,790.7 L743.6,788.3 L744.2,785.9 L744.9,783.5 L745.5,781.0 L746.2,778.6 L746.8,776.2 L747.4,773.8 L748.1,771.4 L748.7,769.0 L749.4,766.5 L750.0,764.1 L750.6,761.7 L751.3,759.3 L751.9,756.9 L752.5,754.4 L753.2,752.0 L753.8,749.6 L754.4,747.2 L755.1,744.8 L755.7,742.3 L756.3,739.9 L756.9,737.5 L757.6,735.1 L758.2,732.7 L758.8,730.2 L759.4,727.8 L760.1,725.4 L760.7,723.0 L761.3,720.5 L761.9,718.1 L762.6,715.7 L763.2,713.3 L763.8,710.9 L764.4,708.4 L765.0,706.0 L765.7,703.6 L766.3,701.2 L766.9,698.7 L767.5,696.3 L768.1,693.9 L768.7,691.5 L769.4,689.0 L770.0,686.6 L770.6,684.2 L771.2,681.8 L771.8,679.3 L772.5,676.9 L773.1,674.5 L773.7,672.1 L774.3,669.6 L774.9,667.2 L775.5,664.8 L776.2,662.4 L776.8,660.0 L777.4,657.5 L778.0,655.1 L778.6,652.7 L779.3,650.3 L779.9,647.8 L780.5,645.4 L781.1,643.0 L781.7,640.6 L782.4,638.1 L783.0,635.7 L783.6,633.3 L784.2,630.9 L784.9,628.5 L785.5,626.0 L786.1,623.6 L786.7,621.2 L787.3,618.8 L788.0,616.3 L788.6,613.9 L789.2,611.5 L789.8,609.1 L790.4,606.6 L791.0,604.2 L791.7,601.8 L792.3,599.4 L792.9,596.9 L793.5,594.5 L794.1,592.1 L794.7,589.7 L795.4,587.2 L796.0,584.8 L796.6,582.4 L797.2,580.0 L797.8,577.5 L798.4,575.1 L799.0,572.7 L799.6,570.3 L800.3,567.8 L800.9,565.4 L801.5,563.0 L802.1,560.6 L802.7,558.1 L803.3,555.7 L803.9,553.3 L804.5,550.9 L805.1,548.4 L805.7,546.0 L806.3,543.6 L806.9,541.2 L807.5,538.7 L808.1,536.3 L808.7,533.9 L809.3,531.4 L809.9,529.0 L810.5,526.6 L811.1,524.2 L811.7,521.7 L812.3,519.3 L812.8,516.9 L813.4,514.4 L814.0,512.0 L814.6,509.6 L815.2,507.1 L815.8,504.7 L816.4,502.3 L816.9,499.8 L817.5,497.4 L818.1,495.0 L818.7,492.6 L819.3,490.1 L819.9,487.7 L820.5,485.3 L821.0,482.8 L821.6,480.4 L822.2,478.0 L822.8,475.5 L823.4,473.1 L824.0,470.7 L824.6,468.2 L825.1,465.8 L825.7,463.4 L826.3,461.0 L826.9,458.5 L827.5,456.1 L828.1,453.7 L828.7,451.2 L829.3,448.8 L829.9,446.4 L830.5,444.0 L831.1,441.5 L831.7,439.1 L832.3,436.7 L832.9,434.3 L833.5,431.8 L834.1,429.4 L834.7,427.0 L835.4,424.6 L836.0,422.1 L836.6,419.7 L837.2,417.3 L837.8,414.9 L838.5,412.5 L839.1,410.0 L839.7,407.6 L840.4,405.2 L841.0,402.8 L841.7,400.4 L842.3,397.9 L843.0,395.5 L843.6,393.1 L844.3,390.7 L844.9,388.3 L845.6,385.9 L846.3,383.5 L846.9,381.1 L847.6,378.6 L848.3,376.2 L848.9,373.8 L849.6,371.4 L850.3,369.0 L851.0,366.6 L851.7,364.2 L852.4,361.8 L853.1,359.4 L853.7,357.0 L854.4,354.6 L855.1,352.2 L855.8,349.8 L856.5,347.4 L857.2,345.0 L857.9,342.5 L858.6,340.1 L859.3,337.7 L860.0,335.3 L860.7,332.9 L861.4,330.5 L862.2,328.1 L862.9,325.7 L863.6,323.3 L864.3,320.9 L865.0,318.5 L865.7,316.1 L866.4,313.7 L867.1,311.3 L867.8,308.9 L868.5,306.5 L869.2,304.1 L869.9,301.7 L870.6,299.3 L871.3,296.9 L872.1,294.5 L872.8,292.1 L873.5,289.7 L874.2,287.3 L874.9,284.9 L875.6,282.5 L876.3,280.1 L877.0,277.7 L877.7,275.3 L878.3,272.9 L879.0,270.5 L879.7,268.1 L880.4,265.7 L881.1,263.3 L881.8,260.9 L882.5,258.5 L883.1,256.1 L883.8,253.7 L884.5,251.2 L885.2,248.8 L885.8,246.4 L886.5,244.0 L887.2,241.6 L887.8,239.2 L888.5,236.8 L889.2,234.4 L889.9,232.0 L890.5,229.6 L891.2,227.2 L891.9,224.8 L892.6,222.4 L893.3,220.0 L894.0,217.6 L894.7,215.2 L895.4,212.8 L896.2,210.5 L896.9,208.1 L897.6,205.7 L898.4,203.3 L899.2,201.0 L900.0,198.6 L900.8,196.3 L901.6,193.9 L902.5,191.6 L903.3,189.2 L904.2,186.9 L905.1,184.6 L906.0,182.3 L906.9,180.0 L907.9,177.7 L908.8,175.4 L909.8,173.1 L910.8,170.8 L911.8,168.5 L912.9,166.2 L913.9,163.9 L914.9,161.7 L915.9,159.4 L917.0,157.1 L918.0,154.8 L919.0,152.5 L920.0,150.2 L920.9,147.9 L921.9,145.5 L922.8,143.2 L923.7,140.8 L924.6,138.5 L925.5,136.1 L926.4,133.7 L927.3,131.4 L928.1,129.0 L929.0,126.6 L929.9,124.3 L930.8,121.9 L931.7,119.6 L932.6,117.2 L933.5,114.9 L934.5,112.6 L935.4,110.3 L936.5,108.0 L937.5,105.8 L938.6,103.6 L939.7,101.4 L940.9,99.2 L942.2,97.1 L943.5,95.0 L944.8,93.0 L946.2,90.9 L947.7,89.0 L949.2,87.0 L950.9,85.1 L952.5,83.3 L954.3,81.5 L956.1,79.7 L958.0,78.0 L959.9,76.3 L961.9,74.6 L963.8,72.9 L965.7,71.2 L967.7,69.4 L969.6,67.7 L971.4,65.9 L973.3,64.1 L975.1,62.3 L976.9,60.5 L978.7,58.7 L980.5,57.1 L982.4,55.5 L984.2,54.0 L986.2,52.7 L988.2,51.6 L990.3,50.6 L992.4,49.9 L994.7,49.4 L997.1,49.2 L999.6,49.2 L1002.2,49.6 L1004.2,49.9 L1006.2,50.4 L1008.3,50.8 L1010.3,51.3 L1012.9,51.8 L1015.3,52.2 L1017.6,52.5 L1019.7,53.0 L1021.7,53.9 L1023.4,55.3 L1025.0,57.0 L1026.4,59.0 L1027.8,61.3 L1028.8,63.1 L1029.7,64.9 L1030.6,66.8 L1031.6,68.6 L1032.5,70.4 L1033.8,72.7 L1035.1,74.9 L1036.5,77.0 L1037.8,79.0 L1039.0,81.1 L1040.2,83.2 L1041.3,85.4 L1042.3,87.7 L1043.2,90.1 L1044.1,92.5 L1045.2,94.7 L1046.6,96.8 L1048.5,98.5 L1050.2,99.5 L1052.0,100.5 L1053.9,102.1 L1055.4,104.1 L1056.6,106.4 L1057.7,108.7 L1058.7,111.0 L1059.7,113.4 L1060.8,115.7 L1061.8,118.0 L1062.8,120.3 L1063.8,122.5 L1064.9,124.8 L1065.9,127.1 L1066.9,129.4 L1068.0,131.6 L1069.0,133.9 L1070.0,136.2 L1071.0,138.5 L1072.0,140.7 L1073.0,143.0 L1074.0,145.3 L1075.0,147.6 L1076.0,149.9 L1076.9,152.2 L1077.9,154.5 L1078.9,156.8 L1079.8,159.1 L1080.8,161.4 L1081.7,163.7 L1082.7,166.0 L1083.6,168.4 L1084.5,170.7 L1085.5,173.0 L1086.4,175.3 L1087.3,177.7 L1088.2,180.0 L1089.1,182.3 L1090.0,184.7 L1090.8,187.0 L1091.7,189.4 L1092.6,191.7 L1093.4,194.1 L1094.2,196.4 L1095.1,198.8 L1095.9,201.1 L1096.7,203.5 L1097.5,205.9 L1098.3,208.2 L1099.1,210.6 L1099.9,213.0 L1100.7,215.4 L1101.4,217.8 L1102.2,220.1 L1102.9,222.5 L1103.6,224.9 L1104.4,227.3 L1105.1,229.7 L1105.8,232.1 L1106.4,234.5 L1107.1,236.9 L1107.8,239.3 L1108.4,241.8 L1109.1,244.2 L1109.7,246.6 L1110.4,249.0 L1111.0,251.4 L1111.6,253.9 L1112.2,256.3 L1112.8,258.7 L1113.4,261.2 L1114.0,263.6 L1114.6,266.0 L1115.2,268.5 L1115.7,270.9 L1116.3,273.3 L1116.9,275.8 L1117.5,278.2 L1118.1,280.7 L1118.6,283.1 L1119.2,285.5 L1119.8,288.0 L1120.3,290.4 L1120.9,292.8 L1121.5,295.3 L1122.1,297.7 L1122.7,300.2 L1123.3,302.6 L1123.9,305.0 L1124.5,307.4 L1125.1,309.9 L1125.7,312.3 L1126.3,314.7 L1126.9,317.2 L1127.5,319.6 L1128.2,322.0 L1128.8,324.4 L1129.5,326.8 L1130.1,329.2 L1130.8,331.7 L1131.4,334.1 L1132.1,336.5 L1132.7,338.9 L1133.4,341.3 L1134.1,343.7 L1134.7,346.1 L1135.4,348.5 L1136.1,350.9 L1136.8,353.3 L1137.5,355.7 L1138.2,358.1 L1138.8,360.6 L1139.5,363.0 L1140.2,365.4 L1140.9,367.8 L1141.6,370.2 L1142.3,372.6 L1143.0,375.0 L1143.7,377.4 L1144.4,379.8 L1145.1,382.2 L1145.8,384.6 L1146.4,387.0 L1147.1,389.4 L1147.8,391.8 L1148.5,394.2 L1149.2,396.6 L1149.9,399.0 L1150.6,401.4 L1151.2,403.8 L1151.9,406.2 L1152.6,408.6 L1153.3,411.0 L1153.9,413.4 L1154.6,415.8 L1155.3,418.2 L1156.0,420.6 L1156.6,423.0 L1157.3,425.4 L1158.0,427.9 L1158.6,430.3 L1159.3,432.7 L1159.9,435.1 L1160.6,437.5 L1161.3,439.9 L1161.9,442.3 L1162.6,444.7 L1163.2,447.1 L1163.9,449.5 L1164.5,452.0 L1165.2,454.4 L1165.8,456.8 L1166.5,459.2 L1167.1,461.6 L1167.8,464.0 L1168.4,466.4 L1169.1,468.8 L1169.7,471.3 L1170.4,473.7 L1171.0,476.1 L1171.7,478.5 L1172.3,480.9 L1173.0,483.3 L1173.6,485.7 L1174.2,488.2 L1174.9,490.6 L1175.5,493.0 L1176.2,495.4 L1176.8,497.8 L1177.4,500.2 L1178.1,502.6 L1178.7,505.1 L1179.4,507.5 L1180.0,509.9 L1180.6,512.3 L1181.3,514.7 L1181.9,517.2 L1182.6,519.6 L1183.2,522.0 L1183.8,524.4 L1184.5,526.8 L1185.1,529.2 L1185.8,531.7 L1186.4,534.1 L1187.0,536.5 L1187.7,538.9 L1188.3,541.3 L1188.9,543.7 L1189.6,546.2 L1190.2,548.6 L1190.9,551.0 L1191.5,553.4 L1192.1,555.8 L1192.8,558.3 L1193.4,560.7 L1194.1,563.1 L1194.7,565.5 L1195.3,567.9 L1196.0,570.3 L1196.6,572.8 L1197.3,575.2 L1197.9,577.6 L1198.5,580.0 L1199.2,582.5 L1199.8,584.9 L1200.4,587.3 L1201.0,589.7 L1201.7,592.1 L1202.3,594.6 L1202.9,597.0 L1203.5,599.4 L1204.1,601.9 L1204.8,604.3 L1205.4,606.7 L1206.0,609.1 L1206.6,611.6 L1207.2,614.0 L1207.8,616.4 L1208.4,618.9 L1209.0,621.3 L1209.5,623.7 L1210.1,626.2 L1210.7,628.6 L1211.3,631.1 L1211.9,633.5 L1212.4,635.9 L1213.0,638.4 L1213.6,640.8 L1214.2,643.2 L1214.8,645.7 L1215.4,648.1 L1216.0,650.5 L1216.6,653.0 L1217.2,655.4 L1217.8,657.8 L1218.4,660.2 L1219.0,662.7 L1219.6,665.1 L1220.3,667.5 L1220.9,669.9 L1221.6,672.3 L1222.2,674.7 L1222.9,677.1 L1223.6,679.5 L1224.2,681.9 L1224.9,684.3 L1225.6,686.7 L1226.3,689.1 L1226.9,691.5 L1227.6,693.9 L1228.3,696.3 L1229.0,698.7 L1229.6,701.1 L1230.3,703.5 L1231.0,705.9 L1231.7,708.3 L1232.4,710.7 L1233.0,713.2 L1233.7,715.6 L1234.4,718.0 L1235.0,720.4 L1235.7,722.8 L1236.4,725.2 L1237.0,727.7 L1237.7,730.1 L1238.4,732.5 L1239.0,734.9 L1239.7,737.3 L1240.4,739.8 L1241.0,742.2 L1241.7,744.6 L1242.3,747.0 L1243.0,749.5 L1243.7,751.9 L1244.3,754.3 L1245.0,756.7 L1245.6,759.2 L1246.3,761.6 L1246.9,764.0 L1247.6,766.5 L1248.2,768.9 L1248.9,771.3 L1249.5,773.7 L1250.2,776.2 L1250.8,778.6 L1251.5,781.0 L1252.1,783.5 L1252.8,785.9 L1253.4,788.3 L1254.0,790.7 L1254.7,793.2 L1255.3,795.6 L1256.0,798.0 L1256.6,800.5 L1257.2,802.9 L1257.9,805.3 L1258.5,807.7 L1259.1,810.2 L1259.8,812.6 L1260.4,815.0 L1261.0,817.4 L1261.7,819.9 L1262.3,822.3 L1263.0,824.7 L1263.6,827.1 L1264.2,829.5 L1264.9,832.0 L1265.5,834.4 L1266.1,836.8 L1266.8,839.2 L1267.4,841.6 L1268.0,844.1 L1268.7,846.5 L1269.3,848.9 L1269.9,851.3 L1270.6,853.7 L1271.2,856.2 L1271.8,858.6 L1272.5,861.0 L1273.1,863.4 L1273.8,865.8 L1274.4,868.2 L1275.0,870.6 L1275.7,873.1 L1276.3,875.5 L1277.0,877.9 L1277.6,880.3 L1278.3,882.7 L1278.9,885.1 L1279.6,887.5 L1280.2,889.9 L1280.9,892.3 L1281.5,894.7 L1282.2,897.1 L1282.8,899.5 L1283.5,901.9 L1284.1,904.3 L1284.8,906.7 L1285.5,909.1 L1286.1,911.5 L1286.8,913.9 L1287.5,916.3 L1288.1,918.7 L1288.8,921.1 L1289.5,923.5 L1290.2,925.9 L1290.8,928.3 L1291.5,930.7 L1292.2,933.1 L1292.9,935.5 L1293.6,937.9 L1294.3,940.3 L1295.0,942.7 L1295.7,945.1 L1296.4,947.4 L1297.1,949.8 L1297.8,952.2 L1298.5,954.6 L1299.2,957.0 L1299.9,959.4 L1300.6,961.7 L1301.3,964.1 L1302.1,966.5 L1302.8,968.9 L1303.5,971.3 L1304.2,973.6 L1305.0,976.0 L1305.7,978.4 L1306.5,980.8 L1307.2,983.1 L1307.9,985.5 L1308.7,987.9 L1309.5,990.2 L1310.2,992.6 L1311.0,995.0 L1311.7,997.3 L1312.5,999.7 L1313.3,1002.0 L1314.1,1004.4 L1314.9,1006.8 L1315.6,1009.1 L1316.4,1011.5 L1317.2,1013.8 L1318.0,1016.2 L1318.8,1018.5 L1319.6,1020.9 L1320.5,1023.2 L1321.3,1025.6 L1322.1,1027.9 L1322.9,1030.3 L1323.7,1032.6 L1324.6,1035.0 L1325.4,1037.3 L1326.3,1039.7 L1327.1,1042.0 L1328.0,1044.3 L1328.8,1046.7 L1329.7,1049.0 L1330.6,1051.3 L1331.4,1053.7 L1332.3,1056.0 L1333.2,1058.3 L1334.1,1060.7 L1335.0,1063.0 L1335.9,1065.3 L1336.8,1067.6 L1337.7,1070.0 L1338.6,1072.3 L1339.6,1074.6 L1340.5,1076.9 L1341.4,1079.2 L1342.4,1081.6 L1343.3,1083.9 L1344.3,1086.2 L1345.2,1088.5 L1346.2,1090.8 L1347.2,1093.1 L1348.1,1095.4 L1349.1,1097.7 L1350.1,1100.0 L1351.1,1102.3 L1352.1,1104.6 L1353.1,1106.9 L1354.1,1109.2 L1355.2,1111.5 L1356.2,1113.8 L1357.2,1116.1 L1358.3,1118.4 L1359.3,1120.6 L1360.4,1122.9 L1361.4,1125.2 L1362.5,1127.5 L1363.6,1129.8 L1364.6,1132.1 L1365.7,1134.3 L1366.8,1136.6 L1367.9,1138.9 L1369.0,1141.1 L1370.2,1143.4 L1371.3,1145.7 L1372.4,1147.9 L1373.6,1150.2 L1374.7,1152.5 L1375.9,1154.7 L1377.0,1157.0 L1378.2,1159.2 L1379.4,1161.5 L1380.6,1163.7 L1381.8,1166.0 L1383.0,1168.2 L1384.2,1170.4 L1385.4,1172.7 L1386.6,1174.9 L1387.8,1177.1 L1389.1,1179.3 L1390.3,1181.6 L1391.6,1183.8 L1392.9,1186.0 L1394.1,1188.2 L1395.4,1190.4 L1396.7,1192.6 L1398.0,1194.8 L1399.3,1196.9 L1400.6,1199.1 L1401.9,1201.3 L1403.3,1203.4 L1404.6,1205.6 L1406.0,1207.7 L1407.3,1209.9 L1408.7,1212.0 L1410.1,1214.1 L1411.5,1216.3 L1412.8,1218.4 L1414.2,1220.5 L1415.7,1222.6 L1417.1,1224.7 L1418.5,1226.8 L1419.9,1228.8 L1421.4,1230.9 L1422.8,1233.0 L1424.3,1235.0 L1425.8,1237.1 L1427.3,1239.1 L1428.8,1241.1 L1430.3,1243.1 L1431.8,1245.2 L1433.3,1247.2 L1434.8,1249.1 L1436.4,1251.1 L1437.9,1253.1 L1439.5,1255.0 L1441.0,1257.0 L1442.6,1258.9 L1444.2,1260.9 L1445.8,1262.8 L1447.4,1264.7 L1449.0,1266.6 L1450.7,1268.5 L1452.3,1270.3 L1453.9,1272.2 L1455.6,1274.0 L1457.3,1275.9 L1458.9,1277.7 L1460.6,1279.5 L1462.3,1281.3 L1464.0,1283.1 L1465.7,1284.9 L1467.5,1286.6 L1469.2,1288.4 L1471.0,1290.1 L1472.7,1291.8 L1474.5,1293.5 L1476.3,1295.2 L1478.1,1296.9 L1479.9,1298.6 L1481.7,1300.2 L1483.5,1301.9 L1485.3,1303.5 L1487.2,1305.1 L1489.0,1306.7 L1490.9,1308.3 L1492.8,1309.8 L1494.7,1311.4 L1496.6,1312.9 L1498.5,1314.4 L1500.4,1315.9 L1502.3,1317.4 L1504.3,1318.9 L1506.2,1320.3 L1508.2,1321.8 L1510.2,1323.2 L1512.2,1324.6 L1514.2,1326.0 L1516.2,1327.3 L1518.2,1328.7 L1520.2,1330.0 L1522.3,1331.3 L1524.3,1332.6 L1526.4,1333.9 L1528.5,1335.2 L1530.6,1336.4 L1532.7,1337.6 L1534.8,1338.8 L1536.9,1340.0 L1539.1,1341.2 L1541.2,1342.3 L1543.4,1343.5 L1545.6,1344.6 L1547.8,1345.7 L1550.0,1346.7 L1552.2,1347.8 L1554.4,1348.8 L1556.6,1349.9 L1558.9,1350.8 L1561.1,1351.8 L1563.4,1352.8 L1565.7,1353.7 L1568.0,1354.7 L1570.3,1355.6 L1572.6,1356.5 L1574.9,1357.4 L1577.2,1358.2 L1579.6,1359.1 L1581.9,1359.9 L1584.2,1360.7 L1586.6,1361.5 L1589.0,1362.3 L1591.4,1363.0 L1593.7,1363.8 L1596.1,1364.5 L1598.5,1365.3 L1601.0,1366.0 L1603.4,1366.7 L1605.8,1367.3 L1608.2,1368.0 L1610.7,1368.7 L1613.1,1369.3 L1615.6,1369.9 L1618.0,1370.5 L1620.5,1371.1 L1622.9,1371.7 L1625.4,1372.3 L1627.9,1372.9 L1630.4,1373.4 L1632.9,1374.0 L1635.4,1374.5 L1637.9,1375.0 L1640.4,1375.5 L1642.9,1376.0 L1645.4,1376.5 L1647.9,1377.0 L1650.4,1377.4 L1653.0,1377.9 L1655.5,1378.3 L1658.0,1378.8 L1660.5,1379.2 L1663.1,1379.6 L1665.6,1380.0 L1668.2,1380.4 L1670.7,1380.8 L1673.3,1381.2 L1675.8,1381.6 L1678.4,1382.0 L1680.9,1382.3 L1683.5,1382.7 L1686.0,1383.0 L1688.6,1383.3 L1691.1,1383.7 L1693.7,1384.0 L1696.2,1384.3 L1698.8,1384.6 L1701.3,1384.9 L1703.9,1385.2 L1706.4,1385.5 L1709.0,1385.8 L1711.6,1386.1 L1714.1,1386.4 L1716.7,1386.7 L1719.2,1386.9 L1721.8,1387.2 L1724.3,1387.5 L1726.9,1387.7 L1729.4,1388.0 L1731.9,1388.2 L1734.5,1388.5 L1737.0,1388.7 L1739.6,1389.0 L1742.1,1389.2 L1744.6,1389.4 L1747.1,1389.7 L1749.7,1389.9 L1752.2,1390.1 L1754.7,1390.3 L1757.3,1390.5 L1759.8,1390.7 L1762.3,1391.0 L1764.8,1391.2 L1767.3,1391.4 L1769.8,1391.6 L1772.3,1391.8 L1774.9,1391.9 L1777.4,1392.1 L1779.9,1392.3 L1782.4,1392.5 L1784.9,1392.7 L1787.4,1392.9 L1789.9,1393.0 L1792.4,1393.2 L1794.9,1393.4 L1797.4,1393.5 L1799.9,1393.7 L1802.4,1393.9 L1804.9,1394.0 L1807.4,1394.2 L1809.9,1394.3 L1812.3,1394.5 L1814.8,1394.6 L1817.3,1394.7 L1819.8,1394.9 L1822.3,1395.0 L1824.8,1395.2 L1827.3,1395.3 L1829.7,1395.4 L1832.2,1395.5 L1834.7,1395.7 L1837.2,1395.8 L1839.7,1395.9 L1842.1,1396.0 L1844.6,1396.1 L1847.1,1396.2 L1849.6,1396.4 L1852.0,1396.5 L1854.5,1396.6 L1857.0,1396.7 L1859.4,1396.8 L1861.9,1396.9 L1864.4,1397.0 L1866.9,1397.0 L1869.3,1397.1 L1871.8,1397.2 L1874.3,1397.3 L1876.7,1397.4 L1879.2,1397.5 L1881.7,1397.6 L1884.1,1397.6 L1886.6,1397.7 L1889.0,1397.8 L1891.5,1397.8 L1894.0,1397.9 L1896.4,1398.0 L1898.9,1398.1 L1901.4,1398.1 L1903.8,1398.2 L1906.3,1398.2 L1908.7,1398.3 L1911.2,1398.4 L1913.7,1398.4 L1916.1,1398.5 L1918.6,1398.5 L1921.1,1398.6 L1923.5,1398.6 L1926.0,1398.7 L1928.4,1398.7 L1930.9,1398.7 L1933.4,1398.8 L1935.8,1398.8 L1938.3,1398.9 L1940.7,1398.9 L1943.2,1398.9 L1945.7,1399.0 L1948.1,1399.0 L1950.6,1399.0 L1953.0,1399.1 L1955.5,1399.1 L1958.0,1399.1 L1960.4,1399.2 L1962.9,1399.2 L1965.3,1399.2 L1967.8,1399.2 L1970.3,1399.3 L1972.7,1399.3 L1975.2,1399.3 L1977.7,1399.3 L1980.1,1399.3 L1982.6,1399.4 L1985.1,1399.4 L1987.5,1399.4 L1990.0,1399.4 L1992.5,1399.4 L1994.9,1399.4 L1997.4,1399.4 L1999.9,1399.4 L2002.3,1399.5 L2004.8,1399.5 L2007.3,1399.5 L2009.7,1399.5 L2012.2,1399.5 L2014.7,1399.5 L2017.2,1399.5 L2019.6,1399.5 L2022.1,1399.5 L2024.6,1399.5 L2027.1,1399.5 L2029.6,1399.5 L2032.0,1399.5 L2034.5,1399.5 L2037.0,1399.5 L2039.5,1399.5 L2042.0,1399.6 L2044.5,1399.6 L2046.9,1399.6 L2049.4,1399.6 L2051.9,1399.6 L2054.4,1399.6 L2056.9,1399.6 L2059.4,1399.6 L2061.9,1399.6 L2064.4,1399.6 L2066.9,1399.6 L2069.4,1399.6 L2071.9,1399.6 L2074.4,1399.6 L2076.9,1399.6 L2079.4,1399.6 L2081.9,1399.6 L2084.4,1399.6 L2086.9,1399.6 L2089.4,1399.6 L2091.9,1399.6 L2094.5,1399.6 L2097.0,1399.6 L2099.5,1399.6 L2102.0,1399.6 L2104.5,1399.6 L2107.1,1399.6 L2109.6,1399.6 L2112.1,1399.6 L2114.6,1399.6 L2117.2,1399.6 L2119.7,1399.6 L2122.2,1399.6 L2124.8,1399.6 L2127.3,1399.6 L2129.8,1399.6 L2132.4,1399.6 L2134.9,1399.6 L2137.5,1399.7 L2140.0,1399.7 L2142.6,1399.7 L2145.1,1399.7 L2147.7,1399.7 L2150.2,1399.7 L2152.8,1399.7 L2155.3,1399.7 L2157.9,1399.8 L2160.5,1399.8 L2163.0,1399.8 L2165.6,1399.8 L2168.2,1399.8 L2170.8,1399.9 L2173.3,1399.9 L2175.9,1399.9 L2178.5,1399.9 L2181.1,1399.9 L2183.7,1400.0 L2186.3,1400.0 L2188.9,1400.0 L2191.4,1400.1 L2194.0,1400.1 L2196.6,1400.1 L2199.2,1400.2 L2200.6,1400.2"/>
<path stroke="#FFC000" d="M230.2,1384.1 L232.6,1384.1 L235.0,1384.1 L237.5,1384.0 L239.9,1384.0 L242.4,1384.0 L244.8,1383.9 L247.3,1383.9 L249.7,1383.8 L252.2,1383.7 L254.6,1383.6 L257.1,1383.5 L259.5,1383.4 L262.0,1383.3 L264.4,1383.2 L266.9,1383.0 L269.3,1382.9 L271.8,1382.7 L274.3,1382.5 L276.7,1382.3 L279.2,1382.1 L281.6,1381.9 L284.1,1381.7 L286.5,1381.5 L289.0,1381.3 L291.5,1381.0 L293.9,1380.7 L296.4,1380.5 L298.8,1380.2 L301.3,1379.9 L303.7,1379.6 L306.2,1379.3 L308.6,1378.9 L311.1,1378.6 L313.5,1378.2 L316.0,1377.9 L318.4,1377.5 L320.8,1377.1 L323.3,1376.7 L325.7,1376.3 L328.1,1375.8 L330.6,1375.4 L333.0,1375.0 L335.4,1374.5 L337.8,1374.0 L340.3,1373.5 L342.7,1373.0 L345.1,1372.5 L347.5,1372.0 L349.9,1371.5 L352.3,1370.9 L354.7,1370.3 L357.1,1369.8 L359.5,1369.2 L361.9,1368.6 L364.2,1368.0 L366.6,1367.3 L369.0,1366.7 L371.3,1366.0 L373.7,1365.4 L376.1,1364.7 L378.4,1364.0 L380.8,1363.3 L383.1,1362.6 L385.4,1361.8 L387.8,1361.1 L390.1,1360.4 L392.4,1359.6 L394.8,1358.8 L397.1,1358.0 L399.4,1357.2 L401.7,1356.4 L404.0,1355.6 L406.3,1354.8 L408.6,1353.9 L410.9,1353.1 L413.2,1352.2 L415.5,1351.4 L417.8,1350.5 L420.1,1349.6 L422.4,1348.7 L424.7,1347.8 L426.9,1346.9 L429.2,1346.0 L431.5,1345.0 L433.7,1344.1 L436.0,1343.1 L438.3,1342.2 L440.5,1341.2 L442.8,1340.2 L445.0,1339.2 L447.3,1338.3 L449.5,1337.3 L451.8,1336.3 L454.0,1335.2 L456.3,1334.2 L458.5,1333.2 L460.7,1332.2 L463.0,1331.1 L465.2,1330.1 L467.4,1329.0 L469.6,1328.0 L471.9,1326.9 L474.1,1325.8 L476.3,1324.7 L478.5,1323.7 L480.8,1322.6 L483.0,1321.5 L485.2,1320.4 L487.4,1319.3 L489.6,1318.2 L491.8,1317.0 L494.0,1315.9 L496.2,1314.8 L498.4,1313.6 L500.6,1312.5 L502.7,1311.3 L504.9,1310.1 L507.0,1308.9 L509.2,1307.7 L511.3,1306.5 L513.5,1305.2 L515.6,1304.0 L517.7,1302.7 L519.8,1301.4 L521.9,1300.1 L523.9,1298.8 L526.0,1297.5 L528.0,1296.1 L530.0,1294.8 L532.1,1293.4 L534.1,1291.9 L536.0,1290.5 L538.0,1289.0 L539.9,1287.6 L541.9,1286.1 L543.8,1284.5 L545.6,1283.0 L547.5,1281.4 L549.3,1279.8 L551.2,1278.1 L553.0,1276.5 L554.7,1274.8 L556.5,1273.1 L558.2,1271.3 L559.9,1269.6 L561.6,1267.7 L563.3,1265.9 L564.9,1264.0 L566.5,1262.2 L568.1,1260.3 L569.7,1258.3 L571.2,1256.4 L572.7,1254.4 L574.3,1252.4 L575.7,1250.5 L577.2,1248.5 L578.7,1246.5 L580.1,1244.4 L581.5,1242.4 L582.9,1240.4 L584.3,1238.4 L585.7,1236.4 L587.1,1234.3 L588.4,1232.3 L589.8,1230.3 L591.1,1228.3 L592.5,1226.2 L593.9,1224.2 L595.2,1222.2 L596.6,1220.2 L598.0,1218.1 L599.3,1216.1 L600.7,1214.1 L602.1,1212.0 L603.4,1210.0 L604.8,1207.9 L606.2,1205.9 L607.6,1203.8 L608.9,1201.8 L610.3,1199.7 L611.6,1197.7 L613.0,1195.6 L614.3,1193.5 L615.7,1191.5 L617.0,1189.4 L618.3,1187.3 L619.6,1185.2 L620.9,1183.1 L622.2,1181.0 L623.5,1178.9 L624.8,1176.8 L626.0,1174.7 L627.2,1172.5 L628.5,1170.4 L629.7,1168.2 L630.9,1166.1 L632.0,1163.9 L633.2,1161.8 L634.3,1159.6 L635.5,1157.4 L636.6,1155.2 L637.7,1153.0 L638.8,1150.8 L639.8,1148.6 L640.9,1146.4 L642.0,1144.2 L643.0,1141.9 L644.0,1139.7 L645.1,1137.5 L646.1,1135.3 L647.1,1133.0 L648.1,1130.8 L649.1,1128.5 L650.1,1126.3 L651.1,1124.0 L652.1,1121.8 L653.0,1119.5 L654.0,1117.3 L655.0,1115.0 L655.9,1112.7 L656.9,1110.5 L657.9,1108.2 L658.8,1106.0 L659.8,1103.7 L660.7,1101.4 L661.7,1099.2 L662.6,1096.9 L663.6,1094.6 L664.5,1092.4 L665.5,1090.1 L666.4,1087.8 L667.3,1085.5 L668.2,1083.3 L669.2,1081.0 L670.1,1078.7 L671.0,1076.4 L671.9,1074.1 L672.8,1071.8 L673.7,1069.6 L674.6,1067.3 L675.5,1065.0 L676.4,1062.7 L677.3,1060.4 L678.2,1058.1 L679.1,1055.8 L680.0,1053.5 L680.9,1051.2 L681.8,1048.9 L682.7,1046.7 L683.5,1044.4 L684.4,1042.1 L685.3,1039.8 L686.2,1037.5 L687.0,1035.2 L687.9,1032.9 L688.7,1030.5 L689.6,1028.2 L690.5,1025.9 L691.3,1023.6 L692.2,1021.3 L693.0,1019.0 L693.9,1016.7 L694.7,1014.4 L695.5,1012.1 L696.4,1009.8 L697.2,1007.5 L698.0,1005.1 L698.9,1002.8 L699.7,1000.5 L700.5,998.2 L701.3,995.9 L702.2,993.6 L703.0,991.2 L703.8,988.9 L704.6,986.6 L705.4,984.3 L706.2,981.9 L707.0,979.6 L707.8,977.3 L708.6,975.0 L709.4,972.6 L710.2,970.3 L711.0,968.0 L711.8,965.7 L712.6,963.3 L713.4,961.0 L714.2,958.7 L715.0,956.3 L715.8,954.0 L716.5,951.7 L717.3,949.3 L718.1,947.0 L718.9,944.7 L719.7,942.3 L720.4,940.0 L721.2,937.7 L722.0,935.3 L722.7,933.0 L723.5,930.6 L724.2,928.3 L725.0,926.0 L725.8,923.6 L726.5,921.3 L727.3,918.9 L728.0,916.6 L728.8,914.3 L729.5,911.9 L730.3,909.6 L731.0,907.2 L731.8,904.9 L732.5,902.5 L733.2,900.2 L734.0,897.8 L734.7,895.5 L735.4,893.2 L736.2,890.8 L736.9,888.5 L737.6,886.1 L738.4,883.8 L739.1,881.4 L739.8,879.1 L740.5,876.7 L741.3,874.4 L742.0,872.0 L742.7,869.7 L743.4,867.3 L744.1,865.0 L744.8,862.6 L745.6,860.2 L746.3,857.9 L747.0,855.5 L747.7,853.2 L748.4,850.8 L749.1,848.5 L749.8,846.1 L750.5,843.8 L751.2,841.4 L751.9,839.0 L752.6,836.7 L753.3,834.3 L754.0,832.0 L754.7,829.6 L755.4,827.3 L756.1,824.9 L756.8,822.5 L757.5,820.2 L758.1,817.8 L758.8,815.5 L759.5,813.1 L760.2,810.7 L760.9,808.4 L761.6,806.0 L762.3,803.6 L762.9,801.3 L763.6,798.9 L764.3,796.6 L765.0,794.2 L765.7,791.8 L766.3,789.5 L767.0,787.1 L767.7,784.7 L768.4,782.4 L769.0,780.0 L769.7,777.6 L770.4,775.3 L771.0,772.9 L771.7,770.5 L772.4,768.2 L773.0,765.8 L773.7,763.4 L774.4,761.1 L775.0,758.7 L775.7,756.3 L776.4,754.0 L777.0,751.6 L777.7,749.2 L778.3,746.9 L779.0,744.5 L779.7,742.1 L780.3,739.8 L781.0,737.4 L781.6,735.0 L782.3,732.6 L782.9,730.3 L783.6,727.9 L784.3,725.5 L784.9,723.2 L785.6,720.8 L786.2,718.4 L786.9,716.0 L787.5,713.7 L788.2,711.3 L788.8,708.9 L789.5,706.6 L790.1,704.2 L790.8,701.8 L791.4,699.4 L792.1,697.1 L792.7,694.7 L793.4,692.3 L794.0,689.9 L794.7,687.6 L795.3,685.2 L795.9,682.8 L796.6,680.5 L797.2,678.1 L797.9,675.7 L798.5,673.3 L799.2,671.0 L799.8,668.6 L800.5,666.2 L801.1,663.8 L801.7,661.5 L802.4,659.1 L803.0,656.7 L803.7,654.3 L804.3,652.0 L805.0,649.6 L805.6,647.2 L806.2,644.8 L806.9,642.5 L807.5,640.1 L808.2,637.7 L808.8,635.3 L809.5,633.0 L810.1,630.6 L810.7,628.2 L811.4,625.8 L812.0,623.4 L812.7,621.1 L813.3,618.7 L814.0,616.3 L814.6,613.9 L815.2,611.6 L815.9,609.2 L816.5,606.8 L817.2,604.4 L817.8,602.1 L818.5,599.7 L819.1,597.3 L819.7,594.9 L820.4,592.6 L821.0,590.2 L821.7,587.8 L822.3,585.4 L823.0,583.1 L823.6,580.7 L824.2,578.3 L824.9,575.9 L825.5,573.6 L826.2,571.2 L826.8,568.8 L827.5,566.4 L828.1,564.1 L828.8,561.7 L829.4,559.3 L830.1,556.9 L830.7,554.6 L831.4,552.2 L832.0,549.8 L832.6,547.4 L833.3,545.1 L833.9,542.7 L834.6,540.3 L835.2,538.0 L835.9,535.6 L836.5,533.2 L837.2,530.8 L837.8,528.5 L838.5,526.1 L839.1,523.7 L839.8,521.3 L840.4,519.0 L841.1,516.6 L841.7,514.2 L842.4,511.9 L843.1,509.5 L843.7,507.1 L844.4,504.8 L845.0,502.4 L845.7,500.0 L846.3,497.6 L847.0,495.3 L847.6,492.9 L848.3,490.5 L849.0,488.2 L849.6,485.8 L850.3,483.4 L850.9,481.1 L851.6,478.7 L852.3,476.3 L852.9,474.0 L853.6,471.6 L854.2,469.2 L854.9,466.9 L855.6,464.5 L856.2,462.1 L856.9,459.8 L857.6,457.4 L858.2,455.0 L858.9,452.7 L859.6,450.3 L860.2,448.0 L860.9,445.6 L861.6,443.2 L862.2,440.9 L862.9,438.5 L863.6,436.1 L864.2,433.8 L864.9,431.4 L865.6,429.1 L866.3,426.7 L866.9,424.3 L867.6,422.0 L868.3,419.6 L869.0,417.3 L869.7,414.9 L870.3,412.5 L871.0,410.2 L871.7,407.8 L872.4,405.5 L873.1,403.1 L873.8,400.8 L874.5,398.4 L875.1,396.0 L875.8,393.7 L876.5,391.3 L877.2,389.0 L877.9,386.6 L878.6,384.3 L879.3,381.9 L880.0,379.6 L880.7,377.2 L881.4,374.9 L882.1,372.5 L882.8,370.2 L883.5,367.8 L884.2,365.4 L884.9,363.1 L885.7,360.7 L886.4,358.4 L887.1,356.0 L887.8,353.7 L888.5,351.3 L889.2,349.0 L890.0,346.7 L890.7,344.3 L891.4,342.0 L892.1,339.6 L892.9,337.3 L893.6,334.9 L894.3,332.6 L895.1,330.2 L895.8,327.9 L896.5,325.5 L897.3,323.2 L898.0,320.8 L898.8,318.5 L899.5,316.1 L900.3,313.8 L901.0,311.5 L901.8,309.1 L902.5,306.8 L903.3,304.4 L904.0,302.1 L904.8,299.7 L905.6,297.4 L906.3,295.1 L907.1,292.7 L907.9,290.4 L908.6,288.0 L909.4,285.7 L910.2,283.4 L911.0,281.0 L911.7,278.7 L912.5,276.4 L913.3,274.0 L914.1,271.7 L914.9,269.4 L915.7,267.0 L916.5,264.7 L917.3,262.4 L918.1,260.0 L918.9,257.7 L919.7,255.4 L920.5,253.1 L921.4,250.7 L922.2,248.4 L923.0,246.1 L923.8,243.8 L924.7,241.4 L925.5,239.1 L926.3,236.8 L927.2,234.5 L928.0,232.2 L928.9,229.9 L929.7,227.5 L930.6,225.2 L931.4,222.9 L932.3,220.6 L933.2,218.3 L934.0,216.0 L934.9,213.7 L935.8,211.4 L936.7,209.1 L937.6,206.8 L938.5,204.5 L939.3,202.2 L940.2,199.9 L941.1,197.6 L942.1,195.4 L943.0,193.1 L943.9,190.8 L944.8,188.5 L945.7,186.2 L946.7,184.0 L947.6,181.7 L948.5,179.4 L949.5,177.1 L950.4,174.9 L951.4,172.6 L952.3,170.3 L953.3,168.1 L954.2,165.8 L955.2,163.6 L956.2,161.3 L957.2,159.1 L958.1,156.8 L959.1,154.6 L960.1,152.3 L961.1,150.1 L962.1,147.8 L963.1,145.6 L964.2,143.4 L965.2,141.1 L966.2,138.9 L967.2,136.7 L968.3,134.5 L969.3,132.2 L970.4,130.0 L971.4,127.8 L972.5,125.6 L973.6,123.4 L974.8,121.3 L976.0,119.2 L977.2,117.0 L978.5,115.0 L979.9,112.9 L981.3,110.9 L982.8,108.9 L984.4,107.0 L986.1,105.1 L987.7,103.2 L989.4,101.3 L991.0,99.4 L992.7,97.5 L994.3,95.6 L995.9,93.7 L997.4,91.7 L998.8,89.7 L1000.2,87.8 L1001.6,85.8 L1003.0,83.7 L1004.4,81.8 L1005.8,79.8 L1007.2,77.8 L1008.6,75.9 L1010.1,74.0 L1011.6,72.1 L1013.2,70.3 L1014.9,68.6 L1016.6,66.9 L1018.5,65.3 L1020.5,63.7 L1022.5,62.3 L1024.7,60.9 L1027.0,59.5 L1029.2,58.2 L1031.4,56.8 L1033.6,55.4 L1035.8,54.2 L1038.0,53.0 L1040.1,52.1 L1042.3,51.4 L1044.5,50.9 L1046.7,50.6 L1048.9,50.6 L1051.1,50.8 L1053.4,51.3 L1055.7,51.9 L1058.0,52.8 L1060.3,53.8 L1062.5,55.0 L1064.8,56.4 L1067.0,57.8 L1068.7,59.0 L1070.3,60.2 L1071.9,61.4 L1073.5,62.7 L1075.0,64.0 L1076.5,65.4 L1078.5,67.1 L1080.4,68.9 L1082.2,70.8 L1083.9,72.6 L1085.6,74.4 L1087.3,76.3 L1088.9,78.2 L1090.4,80.0 L1091.9,81.9 L1093.4,83.9 L1094.8,85.8 L1096.2,87.7 L1097.6,89.6 L1098.9,91.6 L1100.2,93.5 L1101.5,95.5 L1102.8,97.5 L1104.0,99.5 L1105.2,101.5 L1106.5,103.4 L1107.7,105.4 L1108.9,107.4 L1110.1,109.4 L1111.3,111.5 L1112.6,113.5 L1113.8,115.5 L1115.1,117.5 L1116.3,119.5 L1117.6,121.5 L1118.9,123.6 L1120.2,125.6 L1121.6,127.6 L1123.0,129.6 L1124.3,131.6 L1125.7,133.7 L1127.1,135.7 L1128.5,137.7 L1130.0,139.7 L1131.4,141.8 L1132.8,143.8 L1134.3,145.8 L1135.7,147.9 L1137.2,149.9 L1138.6,152.0 L1140.1,154.0 L1141.5,156.0 L1143.0,158.1 L1144.4,160.2 L1145.9,162.2 L1147.3,164.3 L1148.7,166.4 L1150.1,168.4 L1151.5,170.5 L1152.9,172.6 L1154.2,174.7 L1155.6,176.8 L1156.9,178.9 L1158.2,181.0 L1159.5,183.2 L1160.7,185.3 L1162.0,187.4 L1163.2,189.6 L1164.4,191.7 L1165.5,193.9 L1166.7,196.0 L1167.8,198.2 L1168.9,200.4 L1170.0,202.6 L1171.0,204.8 L1172.1,207.0 L1173.1,209.2 L1174.1,211.4 L1175.2,213.6 L1176.2,215.8 L1177.2,218.0 L1178.2,220.2 L1179.2,222.4 L1180.1,224.6 L1181.1,226.9 L1182.1,229.1 L1183.1,231.3 L1184.1,233.5 L1185.1,235.8 L1186.1,238.0 L1187.2,240.2 L1188.2,242.4 L1189.2,244.7 L1190.3,246.9 L1191.3,249.1 L1192.4,251.4 L1193.4,253.6 L1194.5,255.8 L1195.5,258.1 L1196.6,260.3 L1197.7,262.5 L1198.7,264.8 L1199.8,267.0 L1200.8,269.2 L1201.9,271.5 L1202.9,273.7 L1204.0,276.0 L1205.0,278.2 L1206.1,280.5 L1207.1,282.7 L1208.1,285.0 L1209.1,287.3 L1210.1,289.5 L1211.1,291.8 L1212.1,294.1 L1213.0,296.3 L1214.0,298.6 L1214.9,300.9 L1215.9,303.2 L1216.8,305.5 L1217.7,307.8 L1218.6,310.1 L1219.4,312.4 L1220.3,314.7 L1221.2,317.0 L1222.0,319.3 L1222.9,321.6 L1223.7,323.9 L1224.5,326.2 L1225.3,328.5 L1226.1,330.8 L1226.9,333.2 L1227.7,335.5 L1228.5,337.8 L1229.3,340.1 L1230.0,342.5 L1230.8,344.8 L1231.6,347.1 L1232.3,349.5 L1233.1,351.8 L1233.8,354.2 L1234.6,356.5 L1235.3,358.8 L1236.0,361.2 L1236.8,363.5 L1237.5,365.9 L1238.2,368.2 L1238.9,370.5 L1239.7,372.9 L1240.4,375.2 L1241.1,377.6 L1241.8,379.9 L1242.6,382.3 L1243.3,384.6 L1244.0,387.0 L1244.7,389.3 L1245.5,391.7 L1246.2,394.0 L1246.9,396.3 L1247.6,398.7 L1248.4,401.0 L1249.1,403.4 L1249.8,405.7 L1250.5,408.1 L1251.3,410.4 L1252.0,412.8 L1252.7,415.1 L1253.5,417.5 L1254.2,419.8 L1254.9,422.2 L1255.7,424.5 L1256.4,426.8 L1257.1,429.2 L1257.8,431.5 L1258.6,433.9 L1259.3,436.2 L1260.0,438.6 L1260.8,440.9 L1261.5,443.3 L1262.2,445.6 L1263.0,448.0 L1263.7,450.3 L1264.4,452.7 L1265.2,455.0 L1265.9,457.4 L1266.6,459.7 L1267.4,462.1 L1268.1,464.4 L1268.8,466.7 L1269.5,469.1 L1270.3,471.4 L1271.0,473.8 L1271.7,476.1 L1272.5,478.5 L1273.2,480.8 L1273.9,483.2 L1274.7,485.5 L1275.4,487.9 L1276.1,490.2 L1276.9,492.6 L1277.6,494.9 L1278.3,497.3 L1279.1,499.6 L1279.8,502.0 L1280.5,504.3 L1281.3,506.7 L1282.0,509.0 L1282.7,511.4 L1283.4,513.7 L1284.2,516.1 L1284.9,518.4 L1285.6,520.8 L1286.4,523.1 L1287.1,525.5 L1287.8,527.8 L1288.5,530.2 L1289.3,532.5 L1290.0,534.9 L1290.7,537.2 L1291.4,539.6 L1292.2,541.9 L1292.9,544.3 L1293.6,546.6 L1294.3,549.0 L1295.1,551.3 L1295.8,553.7 L1296.5,556.1 L1297.2,558.4 L1298.0,560.8 L1298.7,563.1 L1299.4,565.5 L1300.1,567.8 L1300.8,570.2 L1301.6,572.5 L1302.3,574.9 L1303.0,577.2 L1303.7,579.6 L1304.4,581.9 L1305.2,584.3 L1305.9,586.7 L1306.6,589.0 L1307.3,591.4 L1308.0,593.7 L1308.7,596.1 L1309.4,598.4 L1310.2,600.8 L1310.9,603.1 L1311.6,605.5 L1312.3,607.9 L1313.0,610.2 L1313.7,612.6 L1314.4,614.9 L1315.1,617.3 L1315.8,619.6 L1316.5,622.0 L1317.2,624.4 L1317.9,626.7 L1318.6,629.1 L1319.3,631.4 L1320.0,633.8 L1320.7,636.1 L1321.4,638.5 L1322.1,640.9 L1322.8,643.2 L1323.5,645.6 L1324.2,647.9 L1324.9,650.3 L1325.6,652.7 L1326.3,655.0 L1327.0,657.4 L1327.7,659.7 L1328.4,662.1 L1329.1,664.5 L1329.8,666.8 L1330.5,669.2 L1331.2,671.5 L1331.9,673.9 L1332.6,676.3 L1333.3,678.6 L1334.0,681.0 L1334.6,683.3 L1335.3,685.7 L1336.0,688.1 L1336.7,690.4 L1337.4,692.8 L1338.1,695.2 L1338.8,697.5 L1339.5,699.9 L1340.2,702.2 L1340.9,704.6 L1341.5,707.0 L1342.2,709.3 L1342.9,711.7 L1343.6,714.0 L1344.3,716.4 L1345.0,718.8 L1345.7,721.1 L1346.4,723.5 L1347.1,725.8 L1347.8,728.2 L1348.5,730.6 L1349.1,732.9 L1349.8,735.3 L1350.5,737.6 L1351.2,740.0 L1351.9,742.4 L1352.6,744.7 L1353.3,747.1 L1354.0,749.4 L1354.7,751.8 L1355.4,754.1 L1356.1,756.5 L1356.8,758.9 L1357.5,761.2 L1358.2,763.6 L1358.9,765.9 L1359.6,768.3 L1360.3,770.6 L1361.0,773.0 L1361.7,775.4 L1362.4,777.7 L1363.1,780.1 L1363.8,782.4 L1364.5,784.8 L1365.2,787.1 L1365.9,789.5 L1366.6,791.8 L1367.3,794.2 L1368.0,796.5 L1368.7,798.9 L1369.4,801.3 L1370.1,803.6 L1370.8,806.0 L1371.5,808.3 L1372.3,810.7 L1373.0,813.0 L1373.7,815.4 L1374.4,817.7 L1375.1,820.1 L1375.8,822.4 L1376.6,824.8 L1377.3,827.1 L1378.0,829.5 L1378.7,831.8 L1379.5,834.1 L1380.2,836.5 L1380.9,838.8 L1381.6,841.2 L1382.4,843.5 L1383.1,845.9 L1383.8,848.2 L1384.6,850.6 L1385.3,852.9 L1386.0,855.2 L1386.8,857.6 L1387.5,859.9 L1388.3,862.3 L1389.0,864.6 L1389.8,866.9 L1390.5,869.3 L1391.2,871.6 L1392.0,874.0 L1392.8,876.3 L1393.5,878.6 L1394.3,881.0 L1395.0,883.3 L1395.8,885.6 L1396.5,888.0 L1397.3,890.3 L1398.1,892.6 L1398.8,895.0 L1399.6,897.3 L1400.4,899.6 L1401.1,902.0 L1401.9,904.3 L1402.7,906.6 L1403.5,909.0 L1404.3,911.3 L1405.0,913.6 L1405.8,915.9 L1406.6,918.3 L1407.4,920.6 L1408.2,922.9 L1409.0,925.2 L1409.8,927.6 L1410.6,929.9 L1411.4,932.2 L1412.2,934.5 L1413.0,936.8 L1413.8,939.2 L1414.6,941.5 L1415.4,943.8 L1416.2,946.1 L1417.0,948.4 L1417.9,950.8 L1418.7,953.1 L1419.5,955.4 L1420.3,957.7 L1421.2,960.0 L1422.0,962.3 L1422.8,964.6 L1423.7,966.9 L1424.5,969.2 L1425.4,971.5 L1426.2,973.9 L1427.1,976.2 L1427.9,978.5 L1428.8,980.8 L1429.6,983.1 L1430.5,985.4 L1431.3,987.7 L1432.2,990.0 L1433.1,992.3 L1433.9,994.6 L1434.8,996.9 L1435.7,999.2 L1436.6,1001.5 L1437.5,1003.8 L1438.3,1006.0 L1439.2,1008.3 L1440.1,1010.6 L1441.0,1012.9 L1441.9,1015.2 L1442.8,1017.5 L1443.7,1019.8 L1444.6,1022.1 L1445.5,1024.4 L1446.5,1026.6 L1447.4,1028.9 L1448.3,1031.2 L1449.2,1033.5 L1450.1,1035.8 L1451.1,1038.0 L1452.0,1040.3 L1453.0,1042.6 L1453.9,1044.9 L1454.8,1047.1 L1455.8,1049.4 L1456.7,1051.7 L1457.7,1054.0 L1458.7,1056.2 L1459.6,1058.5 L1460.6,1060.8 L1461.6,1063.0 L1462.5,1065.3 L1463.5,1067.6 L1464.5,1069.8 L1465.5,1072.1 L1466.5,1074.3 L1467.5,1076.6 L1468.5,1078.9 L1469.5,1081.1 L1470.5,1083.4 L1471.5,1085.6 L1472.5,1087.9 L1473.5,1090.1 L1474.5,1092.4 L1475.5,1094.6 L1476.6,1096.9 L1477.6,1099.1 L1478.6,1101.4 L1479.7,1103.6 L1480.7,1105.8 L1481.8,1108.1 L1482.8,1110.3 L1483.9,1112.6 L1484.9,1114.8 L1486.0,1117.0 L1487.1,1119.3 L1488.1,1121.5 L1489.2,1123.7 L1490.3,1126.0 L1491.4,1128.2 L1492.5,1130.4 L1493.6,1132.6 L1494.7,1134.9 L1495.8,1137.1 L1496.9,1139.3 L1498.0,1141.5 L1499.1,1143.7 L1500.3,1145.9 L1501.4,1148.1 L1502.5,1150.3 L1503.7,1152.5 L1504.8,1154.7 L1506.0,1156.9 L1507.2,1159.1 L1508.3,1161.3 L1509.5,1163.5 L1510.7,1165.6 L1511.9,1167.8 L1513.1,1170.0 L1514.3,1172.1 L1515.5,1174.3 L1516.7,1176.5 L1517.9,1178.6 L1519.1,1180.7 L1520.4,1182.9 L1521.6,1185.0 L1522.9,1187.1 L1524.1,1189.3 L1525.4,1191.4 L1526.6,1193.5 L1527.9,1195.6 L1529.2,1197.7 L1530.5,1199.8 L1531.8,1201.9 L1533.1,1204.0 L1534.4,1206.1 L1535.8,1208.1 L1537.1,1210.2 L1538.4,1212.2 L1539.8,1214.3 L1541.1,1216.3 L1542.5,1218.4 L1543.9,1220.4 L1545.3,1222.4 L1546.7,1224.4 L1548.1,1226.4 L1549.5,1228.4 L1550.9,1230.4 L1552.3,1232.4 L1553.8,1234.4 L1555.2,1236.3 L1556.7,1238.3 L1558.2,1240.3 L1559.7,1242.2 L1561.1,1244.1 L1562.6,1246.0 L1564.2,1248.0 L1565.7,1249.9 L1567.2,1251.8 L1568.7,1253.6 L1570.3,1255.5 L1571.9,1257.4 L1573.4,1259.2 L1575.0,1261.1 L1576.6,1262.9 L1578.2,1264.7 L1579.8,1266.6 L1581.5,1268.4 L1583.1,1270.2 L1584.8,1271.9 L1586.4,1273.7 L1588.1,1275.5 L1589.8,1277.2 L1591.5,1279.0 L1593.2,1280.7 L1594.9,1282.4 L1596.6,1284.1 L1598.4,1285.8 L1600.1,1287.5 L1601.9,1289.2 L1603.7,1290.8 L1605.5,1292.5 L1607.3,1294.1 L1609.1,1295.7 L1610.9,1297.3 L1612.8,1298.9 L1614.6,1300.5 L1616.5,1302.1 L1618.4,1303.7 L1620.3,1305.2 L1622.2,1306.7 L1624.1,1308.3 L1626.1,1309.8 L1628.0,1311.3 L1630.0,1312.7 L1631.9,1314.2 L1633.9,1315.7 L1635.9,1317.1 L1637.9,1318.5 L1639.9,1319.9 L1641.9,1321.3 L1644.0,1322.7 L1646.0,1324.1 L1648.1,1325.5 L1650.1,1326.8 L1652.2,1328.1 L1654.3,1329.5 L1656.4,1330.8 L1658.5,1332.1 L1660.6,1333.3 L1662.7,1334.6 L1664.9,1335.9 L1667.0,1337.1 L1669.2,1338.3 L1671.3,1339.5 L1673.5,1340.7 L1675.7,1341.9 L1677.9,1343.1 L1680.1,1344.2 L1682.3,1345.4 L1684.5,1346.5 L1686.7,1347.6 L1688.9,1348.7 L1691.1,1349.8 L1693.4,1350.9 L1695.6,1351.9 L1697.9,1353.0 L1700.1,1354.0 L1702.4,1355.0 L1704.7,1356.0 L1706.9,1357.0 L1709.2,1358.0 L1711.5,1358.9 L1713.8,1359.8 L1716.1,1360.8 L1718.4,1361.7 L1720.7,1362.6 L1723.0,1363.5 L1725.4,1364.3 L1727.7,1365.2 L1730.0,1366.0 L1732.4,1366.8 L1734.7,1367.7 L1737.0,1368.5 L1739.4,1369.2 L1741.7,1370.0 L1744.1,1370.7 L1746.5,1371.5 L1748.8,1372.2 L1751.2,1372.9 L1753.6,1373.6 L1755.9,1374.3 L1758.3,1374.9 L1760.7,1375.6 L1763.1,1376.2 L1765.4,1376.8 L1767.8,1377.4 L1770.2,1378.0 L1772.6,1378.6 L1775.0,1379.1 L1777.4,1379.6 L1779.8,1380.2 L1782.2,1380.7 L1784.6,1381.2 L1787.0,1381.7 L1789.4,1382.1 L1791.8,1382.6 L1794.2,1383.0 L1796.6,1383.5 L1799.0,1383.9 L1801.4,1384.3 L1803.8,1384.7 L1806.2,1385.1 L1808.7,1385.4 L1811.1,1385.8 L1813.5,1386.1 L1815.9,1386.5 L1818.4,1386.8 L1820.8,1387.1 L1823.2,1387.4 L1825.6,1387.7 L1828.1,1388.0 L1830.5,1388.3 L1832.9,1388.6 L1835.4,1388.8 L1837.8,1389.1 L1840.2,1389.3 L1842.7,1389.5 L1845.1,1389.8 L1847.6,1390.0 L1850.0,1390.2 L1852.5,1390.4 L1854.9,1390.6 L1857.3,1390.8 L1859.8,1390.9 L1862.2,1391.1 L1864.7,1391.3 L1867.1,1391.4 L1869.6,1391.6 L1872.0,1391.7 L1874.5,1391.9 L1877.0,1392.0 L1879.4,1392.1 L1881.9,1392.2 L1884.3,1392.4 L1886.8,1392.5 L1889.2,1392.6 L1891.7,1392.7 L1894.2,1392.8 L1896.6,1392.9 L1899.1,1393.0 L1901.5,1393.0 L1904.0,1393.1 L1906.5,1393.2 L1908.9,1393.3 L1911.4,1393.4 L1913.8,1393.4 L1916.3,1393.5 L1918.8,1393.6 L1921.2,1393.6 L1923.7,1393.7 L1926.2,1393.8 L1928.6,1393.8 L1931.1,1393.9 L1933.6,1393.9 L1936.0,1394.0 L1938.5,1394.0 L1941.0,1394.1 L1943.4,1394.2 L1945.9,1394.2 L1948.4,1394.3 L1950.8,1394.3 L1953.3,1394.4 L1955.8,1394.5 L1958.2,1394.5 L1960.7,1394.6 L1963.2,1394.6 L1965.6,1394.7 L1968.1,1394.8 L1970.5,1394.8 L1973.0,1394.9 L1975.5,1395.0 L1977.9,1395.1 L1980.4,1395.2 L1982.9,1395.2 L1985.3,1395.3 L1987.8,1395.4 L1990.2,1395.5 L1992.7,1395.6 L1995.2,1395.7 L1997.6,1395.8 L2000.1,1395.9 L2002.5,1396.1 L2005.0,1396.2 L2007.5,1396.3 L2009.9,1396.4 L2012.4,1396.6 L2014.8,1396.7 L2017.3,1396.9 L2019.7,1397.0 L2022.2,1397.2 L2024.6,1397.3 L2027.1,1397.5 L2029.5,1397.7 L2032.0,1397.8 L2034.4,1398.0 L2036.9,1398.2 L2039.3,1398.3 L2041.8,1398.5 L2044.2,1398.7 L2046.7,1398.9 L2049.1,1399.1 L2051.6,1399.2 L2054.0,1399.4 L2056.5,1399.6 L2058.9,1399.8 L2061.4,1400.0 L2063.8,1400.1 L2066.3,1400.3 L2068.7,1400.5 L2071.1,1400.7 L2073.6,1400.9 L2076.0,1401.0 L2078.5,1401.2 L2080.9,1401.4 L2083.4,1401.5 L2085.8,1401.7 L2088.3,1401.9 L2090.7,1402.0 L2093.2,1402.2 L2095.6,1402.3 L2098.1,1402.5 L2100.5,1402.6 L2103.0,1402.8 L2105.4,1402.9 L2107.9,1403.0 L2110.3,1403.2 L2112.8,1403.3 L2115.2,1403.4 L2117.6,1403.5 L2120.1,1403.6 L2122.6,1403.7 L2125.0,1403.8 L2127.5,1403.9 L2129.9,1404.0 L2132.4,1404.1 L2134.8,1404.1 L2137.3,1404.2 L2139.7,1404.2 L2142.2,1404.3 L2144.6,1404.3 L2147.1,1404.3 L2149.5,1404.4 L2152.0,1404.4 L2154.5,1404.4 L2156.9,1404.4 L2159.4,1404.3 L2161.8,1404.3 L2164.3,1404.3 L2166.8,1404.2 L2169.2,1404.2 L2171.7,1404.1 L2174.2,1404.0 L2176.6,1403.9 L2179.1,1403.8 L2181.6,1403.7 L2184.0,1403.6 L2186.5,1403.4 L2189.0,1403.3 L2191.5,1403.1 L2193.9,1402.9 L2196.4,1402.7 L2198.9,1402.5 L2199.5,1402.5"/>
<path stroke="#9500CA" d="M229.6,1397.9 L232.1,1398.0 L234.6,1398.1 L237.2,1398.3 L239.7,1398.4 L242.2,1398.5 L244.7,1398.6 L247.2,1398.7 L249.7,1398.7 L252.2,1398.8 L254.7,1398.9 L257.2,1398.9 L259.7,1399.0 L262.2,1399.0 L264.7,1399.1 L267.2,1399.1 L269.7,1399.1 L272.2,1399.2 L274.7,1399.2 L277.2,1399.2 L279.6,1399.2 L282.1,1399.2 L284.6,1399.1 L287.1,1399.1 L289.5,1399.1 L292.0,1399.1 L294.5,1399.0 L296.9,1399.0 L299.4,1398.9 L301.9,1398.8 L304.3,1398.8 L306.8,1398.7 L309.3,1398.6 L311.7,1398.5 L314.2,1398.4 L316.6,1398.3 L319.1,1398.2 L321.5,1398.1 L324.0,1398.0 L326.4,1397.8 L328.9,1397.7 L331.3,1397.6 L333.8,1397.4 L336.2,1397.3 L338.7,1397.1 L341.1,1396.9 L343.5,1396.8 L346.0,1396.6 L348.4,1396.4 L350.9,1396.2 L353.3,1396.0 L355.7,1395.8 L358.2,1395.6 L360.6,1395.4 L363.0,1395.2 L365.5,1394.9 L367.9,1394.7 L370.3,1394.5 L372.7,1394.2 L375.2,1394.0 L377.6,1393.7 L380.0,1393.4 L382.4,1393.2 L384.9,1392.9 L387.3,1392.6 L389.7,1392.3 L392.1,1392.0 L394.6,1391.7 L397.0,1391.4 L399.4,1391.1 L401.8,1390.8 L404.2,1390.5 L406.7,1390.1 L409.1,1389.8 L411.5,1389.5 L413.9,1389.1 L416.3,1388.8 L418.8,1388.4 L421.2,1388.0 L423.6,1387.7 L426.0,1387.3 L428.4,1386.9 L430.8,1386.5 L433.3,1386.2 L435.7,1385.8 L438.1,1385.4 L440.5,1385.0 L442.9,1384.5 L445.3,1384.1 L447.8,1383.7 L450.2,1383.3 L452.6,1382.9 L455.0,1382.4 L457.4,1382.0 L459.8,1381.5 L462.3,1381.1 L464.7,1380.6 L467.1,1380.2 L469.5,1379.7 L471.9,1379.2 L474.3,1378.7 L476.8,1378.3 L479.2,1377.8 L481.6,1377.3 L484.0,1376.8 L486.4,1376.3 L488.9,1375.8 L491.3,1375.3 L493.7,1374.7 L496.1,1374.2 L498.6,1373.7 L501.0,1373.2 L503.4,1372.6 L505.8,1372.1 L508.3,1371.5 L510.7,1371.0 L513.1,1370.4 L515.5,1369.8 L518.0,1369.3 L520.4,1368.7 L522.8,1368.1 L525.2,1367.5 L527.6,1366.9 L530.1,1366.3 L532.5,1365.7 L534.9,1365.1 L537.3,1364.5 L539.7,1363.8 L542.1,1363.2 L544.5,1362.5 L546.9,1361.9 L549.3,1361.2 L551.7,1360.5 L554.1,1359.8 L556.5,1359.1 L558.9,1358.4 L561.3,1357.7 L563.6,1357.0 L566.0,1356.2 L568.4,1355.5 L570.7,1354.7 L573.1,1354.0 L575.5,1353.2 L577.8,1352.4 L580.2,1351.6 L582.5,1350.8 L584.8,1350.0 L587.2,1349.2 L589.5,1348.3 L591.8,1347.5 L594.1,1346.6 L596.4,1345.7 L598.7,1344.8 L601.0,1343.9 L603.3,1343.0 L605.6,1342.1 L607.8,1341.1 L610.1,1340.2 L612.3,1339.2 L614.6,1338.2 L616.8,1337.2 L619.1,1336.2 L621.3,1335.2 L623.5,1334.1 L625.7,1333.1 L627.9,1332.0 L630.1,1330.9 L632.3,1329.8 L634.4,1328.7 L636.6,1327.6 L638.7,1326.5 L640.9,1325.3 L643.0,1324.1 L645.1,1322.9 L647.3,1321.7 L649.4,1320.5 L651.4,1319.3 L653.5,1318.0 L655.6,1316.7 L657.7,1315.5 L659.7,1314.2 L661.8,1312.9 L663.8,1311.5 L665.8,1310.2 L667.8,1308.8 L669.8,1307.5 L671.8,1306.1 L673.8,1304.7 L675.8,1303.3 L677.8,1301.8 L679.7,1300.4 L681.7,1298.9 L683.6,1297.5 L685.5,1296.0 L687.5,1294.5 L689.4,1293.0 L691.3,1291.5 L693.2,1290.0 L695.1,1288.4 L696.9,1286.9 L698.8,1285.3 L700.7,1283.7 L702.5,1282.1 L704.3,1280.5 L706.2,1278.9 L708.0,1277.3 L709.8,1275.6 L711.6,1274.0 L713.4,1272.3 L715.2,1270.6 L716.9,1269.0 L718.7,1267.3 L720.5,1265.6 L722.2,1263.8 L724.0,1262.1 L725.7,1260.4 L727.4,1258.6 L729.1,1256.9 L730.8,1255.1 L732.5,1253.3 L734.2,1251.5 L735.9,1249.7 L737.5,1247.9 L739.2,1246.1 L740.9,1244.3 L742.5,1242.5 L744.1,1240.6 L745.8,1238.8 L747.4,1236.9 L749.0,1235.0 L750.6,1233.1 L752.2,1231.2 L753.8,1229.4 L755.3,1227.4 L756.9,1225.5 L758.5,1223.6 L760.0,1221.7 L761.5,1219.7 L763.1,1217.8 L764.6,1215.9 L766.1,1213.9 L767.6,1211.9 L769.1,1210.0 L770.6,1208.0 L772.1,1206.0 L773.6,1204.0 L775.0,1202.0 L776.5,1200.0 L777.9,1198.0 L779.4,1195.9 L780.8,1193.9 L782.2,1191.9 L783.7,1189.8 L785.1,1187.8 L786.5,1185.8 L787.9,1183.7 L789.3,1181.6 L790.6,1179.6 L792.0,1177.5 L793.4,1175.4 L794.7,1173.3 L796.1,1171.3 L797.4,1169.2 L798.7,1167.1 L800.1,1165.0 L801.4,1162.9 L802.7,1160.8 L804.0,1158.7 L805.3,1156.5 L806.6,1154.4 L807.8,1152.3 L809.1,1150.2 L810.4,1148.0 L811.6,1145.9 L812.9,1143.8 L814.1,1141.6 L815.3,1139.5 L816.6,1137.3 L817.8,1135.2 L819.0,1133.0 L820.2,1130.9 L821.4,1128.7 L822.6,1126.6 L823.8,1124.4 L825.0,1122.2 L826.1,1120.1 L827.3,1117.9 L828.4,1115.7 L829.6,1113.5 L830.7,1111.3 L831.9,1109.1 L833.0,1107.0 L834.1,1104.8 L835.2,1102.6 L836.4,1100.4 L837.5,1098.2 L838.6,1096.0 L839.7,1093.8 L840.8,1091.6 L841.8,1089.4 L842.9,1087.1 L844.0,1084.9 L845.1,1082.7 L846.1,1080.5 L847.2,1078.3 L848.2,1076.0 L849.3,1073.8 L850.3,1071.6 L851.3,1069.3 L852.4,1067.1 L853.4,1064.9 L854.4,1062.6 L855.4,1060.4 L856.4,1058.2 L857.4,1055.9 L858.4,1053.7 L859.4,1051.4 L860.4,1049.2 L861.4,1046.9 L862.4,1044.6 L863.4,1042.4 L864.4,1040.1 L865.3,1037.9 L866.3,1035.6 L867.3,1033.3 L868.2,1031.1 L869.2,1028.8 L870.1,1026.5 L871.1,1024.3 L872.0,1022.0 L872.9,1019.7 L873.9,1017.4 L874.8,1015.2 L875.7,1012.9 L876.7,1010.6 L877.6,1008.3 L878.5,1006.0 L879.4,1003.8 L880.3,1001.5 L881.2,999.2 L882.1,996.9 L883.0,994.6 L883.9,992.3 L884.8,990.0 L885.7,987.7 L886.6,985.4 L887.5,983.1 L888.4,980.9 L889.3,978.6 L890.2,976.3 L891.0,974.0 L891.9,971.7 L892.8,969.4 L893.7,967.1 L894.5,964.8 L895.4,962.4 L896.3,960.1 L897.1,957.8 L898.0,955.5 L898.9,953.2 L899.7,950.9 L900.6,948.6 L901.4,946.3 L902.3,944.0 L903.1,941.7 L904.0,939.4 L904.8,937.1 L905.7,934.8 L906.5,932.4 L907.4,930.1 L908.2,927.8 L909.1,925.5 L909.9,923.2 L910.8,920.9 L911.6,918.6 L912.4,916.3 L913.3,914.0 L914.1,911.6 L915.0,909.3 L915.8,907.0 L916.6,904.7 L917.5,902.4 L918.3,900.1 L919.1,897.8 L920.0,895.4 L920.8,893.1 L921.6,890.8 L922.5,888.5 L923.3,886.2 L924.1,883.9 L924.9,881.5 L925.8,879.2 L926.6,876.9 L927.4,874.6 L928.2,872.3 L929.1,869.9 L929.9,867.6 L930.7,865.3 L931.5,863.0 L932.3,860.7 L933.2,858.3 L934.0,856.0 L934.8,853.7 L935.6,851.4 L936.4,849.1 L937.2,846.7 L938.0,844.4 L938.9,842.1 L939.7,839.8 L940.5,837.5 L941.3,835.1 L942.1,832.8 L942.9,830.5 L943.7,828.2 L944.5,825.8 L945.3,823.5 L946.1,821.2 L946.9,818.9 L947.7,816.5 L948.5,814.2 L949.3,811.9 L950.1,809.6 L950.9,807.2 L951.7,804.9 L952.5,802.6 L953.3,800.3 L954.1,797.9 L954.9,795.6 L955.7,793.3 L956.5,791.0 L957.3,788.6 L958.1,786.3 L958.9,784.0 L959.7,781.6 L960.5,779.3 L961.3,777.0 L962.1,774.7 L962.9,772.3 L963.6,770.0 L964.4,767.7 L965.2,765.3 L966.0,763.0 L966.8,760.7 L967.6,758.3 L968.4,756.0 L969.2,753.7 L969.9,751.4 L970.7,749.0 L971.5,746.7 L972.3,744.4 L973.1,742.0 L973.9,739.7 L974.6,737.4 L975.4,735.0 L976.2,732.7 L977.0,730.4 L977.8,728.0 L978.5,725.7 L979.3,723.4 L980.1,721.0 L980.9,718.7 L981.7,716.4 L982.4,714.0 L983.2,711.7 L984.0,709.4 L984.8,707.0 L985.5,704.7 L986.3,702.4 L987.1,700.0 L987.9,697.7 L988.6,695.4 L989.4,693.0 L990.2,690.7 L991.0,688.4 L991.7,686.0 L992.5,683.7 L993.3,681.4 L994.0,679.0 L994.8,676.7 L995.6,674.4 L996.4,672.0 L997.1,669.7 L997.9,667.3 L998.7,665.0 L999.4,662.7 L1000.2,660.3 L1001.0,658.0 L1001.7,655.7 L1002.5,653.3 L1003.3,651.0 L1004.0,648.6 L1004.8,646.3 L1005.6,644.0 L1006.4,641.6 L1007.1,639.3 L1007.9,637.0 L1008.7,634.6 L1009.4,632.3 L1010.2,629.9 L1011.0,627.6 L1011.7,625.3 L1012.5,622.9 L1013.2,620.6 L1014.0,618.3 L1014.8,615.9 L1015.5,613.6 L1016.3,611.2 L1017.1,608.9 L1017.8,606.6 L1018.6,604.2 L1019.4,601.9 L1020.1,599.5 L1020.9,597.2 L1021.7,594.9 L1022.4,592.5 L1023.2,590.2 L1024.0,587.9 L1024.7,585.5 L1025.5,583.2 L1026.2,580.8 L1027.0,578.5 L1027.8,576.2 L1028.5,573.8 L1029.3,571.5 L1030.1,569.1 L1030.8,566.8 L1031.6,564.5 L1032.4,562.1 L1033.1,559.8 L1033.9,557.4 L1034.6,555.1 L1035.4,552.8 L1036.2,550.4 L1036.9,548.1 L1037.7,545.7 L1038.5,543.4 L1039.2,541.1 L1040.0,538.7 L1040.8,536.4 L1041.5,534.0 L1042.3,531.7 L1043.0,529.4 L1043.8,527.0 L1044.6,524.7 L1045.3,522.3 L1046.1,520.0 L1046.9,517.7 L1047.6,515.3 L1048.4,513.0 L1049.2,510.6 L1049.9,508.3 L1050.7,506.0 L1051.5,503.6 L1052.2,501.3 L1053.0,498.9 L1053.8,496.6 L1054.5,494.3 L1055.3,491.9 L1056.1,489.6 L1056.8,487.2 L1057.6,484.9 L1058.4,482.6 L1059.1,480.2 L1059.9,477.9 L1060.7,475.5 L1061.4,473.2 L1062.2,470.9 L1063.0,468.5 L1063.8,466.2 L1064.5,463.8 L1065.3,461.5 L1066.1,459.2 L1066.8,456.8 L1067.6,454.5 L1068.4,452.1 L1069.2,449.8 L1069.9,447.5 L1070.7,445.1 L1071.5,442.8 L1072.2,440.4 L1073.0,438.1 L1073.8,435.8 L1074.6,433.4 L1075.3,431.1 L1076.1,428.7 L1076.9,426.4 L1077.7,424.1 L1078.5,421.7 L1079.2,419.4 L1080.0,417.0 L1080.8,414.7 L1081.6,412.4 L1082.3,410.0 L1083.1,407.7 L1083.9,405.4 L1084.7,403.0 L1085.5,400.7 L1086.2,398.3 L1087.0,396.0 L1087.8,393.7 L1088.6,391.3 L1089.4,389.0 L1090.2,386.7 L1091.0,384.3 L1091.8,382.0 L1092.5,379.7 L1093.3,377.3 L1094.1,375.0 L1094.9,372.7 L1095.7,370.3 L1096.5,368.0 L1097.3,365.7 L1098.1,363.3 L1098.9,361.0 L1099.8,358.7 L1100.6,356.4 L1101.4,354.0 L1102.2,351.7 L1103.0,349.4 L1103.8,347.1 L1104.6,344.7 L1105.5,342.4 L1106.3,340.1 L1107.1,337.8 L1108.0,335.5 L1108.8,333.1 L1109.6,330.8 L1110.5,328.5 L1111.3,326.2 L1112.2,323.9 L1113.0,321.6 L1113.9,319.3 L1114.7,317.0 L1115.6,314.7 L1116.5,312.4 L1117.3,310.1 L1118.2,307.8 L1119.1,305.5 L1119.9,303.2 L1120.8,300.9 L1121.7,298.6 L1122.6,296.3 L1123.5,294.0 L1124.4,291.7 L1125.3,289.4 L1126.2,287.1 L1127.1,284.8 L1128.0,282.6 L1129.0,280.3 L1129.9,278.0 L1130.8,275.7 L1131.7,273.4 L1132.7,271.2 L1133.6,268.9 L1134.6,266.6 L1135.5,264.4 L1136.5,262.1 L1137.4,259.9 L1138.4,257.6 L1139.4,255.3 L1140.4,253.1 L1141.3,250.8 L1142.3,248.6 L1143.3,246.3 L1144.3,244.1 L1145.3,241.9 L1146.4,239.6 L1147.4,237.4 L1148.4,235.1 L1149.4,232.9 L1150.5,230.7 L1151.5,228.5 L1152.5,226.2 L1153.6,224.0 L1154.7,221.8 L1155.7,219.6 L1156.8,217.4 L1157.9,215.2 L1159.0,213.0 L1160.1,210.8 L1161.2,208.6 L1162.3,206.4 L1163.4,204.2 L1164.5,202.0 L1165.6,199.8 L1166.7,197.6 L1167.9,195.4 L1169.0,193.2 L1170.2,191.1 L1171.3,188.9 L1172.5,186.7 L1173.6,184.5 L1174.8,182.4 L1175.9,180.2 L1177.1,178.0 L1178.3,175.8 L1179.4,173.7 L1180.6,171.5 L1181.7,169.3 L1182.9,167.2 L1184.0,165.0 L1185.2,162.8 L1186.3,160.6 L1187.5,158.5 L1188.6,156.3 L1189.7,154.1 L1190.8,151.9 L1191.9,149.7 L1193.1,147.6 L1194.1,145.4 L1195.2,143.2 L1196.3,141.0 L1197.4,138.8 L1198.4,136.6 L1199.5,134.4 L1200.5,132.2 L1201.5,130.0 L1202.5,127.7 L1203.6,125.5 L1204.6,123.3 L1205.6,121.1 L1206.6,118.9 L1207.6,116.7 L1208.7,114.5 L1209.7,112.3 L1210.8,110.1 L1211.9,107.9 L1213.0,105.7 L1214.1,103.5 L1215.3,101.4 L1216.4,99.2 L1217.6,97.1 L1218.9,95.0 L1220.1,92.8 L1221.5,90.7 L1222.8,88.7 L1224.2,86.6 L1225.6,84.6 L1227.1,82.5 L1228.6,80.5 L1230.2,78.5 L1231.9,76.6 L1233.6,74.6 L1235.3,72.7 L1237.1,70.8 L1239.0,69.0 L1240.9,67.2 L1242.9,65.4 L1244.9,63.7 L1246.9,62.1 L1248.9,60.6 L1251.0,59.1 L1253.2,57.7 L1255.3,56.4 L1257.5,55.3 L1259.7,54.2 L1261.9,53.2 L1264.1,52.4 L1266.3,51.7 L1268.5,51.1 L1270.7,50.7 L1272.9,50.4 L1275.1,50.3 L1277.3,50.3 L1279.4,50.5 L1281.6,50.9 L1283.7,51.4 L1285.8,52.1 L1287.9,52.8 L1290.0,53.7 L1292.1,54.7 L1294.1,55.9 L1296.1,57.1 L1298.1,58.5 L1300.1,59.9 L1302.1,61.4 L1304.0,63.0 L1305.9,64.7 L1307.8,66.5 L1309.6,68.3 L1311.4,70.1 L1313.2,72.1 L1315.0,74.0 L1316.7,76.0 L1318.4,78.0 L1320.0,80.1 L1321.7,82.1 L1323.2,84.2 L1324.8,86.3 L1326.3,88.4 L1327.8,90.5 L1329.2,92.6 L1330.7,94.6 L1332.0,96.7 L1333.4,98.8 L1334.7,100.9 L1336.0,103.1 L1337.3,105.2 L1338.5,107.3 L1339.8,109.4 L1341.0,111.6 L1342.2,113.7 L1343.3,115.9 L1344.5,118.0 L1345.6,120.2 L1346.7,122.4 L1347.8,124.6 L1348.9,126.7 L1350.0,129.0 L1351.0,131.2 L1352.1,133.4 L1353.1,135.6 L1354.1,137.8 L1355.1,140.1 L1356.1,142.3 L1357.1,144.6 L1358.1,146.8 L1359.1,149.1 L1360.0,151.4 L1361.0,153.7 L1361.9,155.9 L1362.9,158.2 L1363.8,160.5 L1364.7,162.8 L1365.6,165.1 L1366.6,167.4 L1367.5,169.7 L1368.4,172.0 L1369.3,174.2 L1370.2,176.5 L1371.1,178.8 L1371.9,181.1 L1372.8,183.4 L1373.7,185.7 L1374.6,188.1 L1375.4,190.4 L1376.3,192.7 L1377.2,195.0 L1378.0,197.3 L1378.9,199.6 L1379.7,201.9 L1380.6,204.2 L1381.4,206.5 L1382.3,208.8 L1383.1,211.1 L1383.9,213.5 L1384.8,215.8 L1385.6,218.1 L1386.4,220.4 L1387.2,222.7 L1388.1,225.1 L1388.9,227.4 L1389.7,229.7 L1390.5,232.0 L1391.3,234.4 L1392.1,236.7 L1392.9,239.0 L1393.7,241.3 L1394.5,243.7 L1395.3,246.0 L1396.0,248.3 L1396.8,250.7 L1397.6,253.0 L1398.4,255.3 L1399.1,257.7 L1399.9,260.0 L1400.7,262.3 L1401.4,264.7 L1402.2,267.0 L1403.0,269.4 L1403.7,271.7 L1404.5,274.0 L1405.2,276.4 L1406.0,278.7 L1406.7,281.1 L1407.4,283.4 L1408.2,285.8 L1408.9,288.1 L1409.6,290.4 L1410.4,292.8 L1411.1,295.1 L1411.8,297.5 L1412.5,299.8 L1413.3,302.2 L1414.0,304.5 L1414.7,306.9 L1415.4,309.2 L1416.1,311.6 L1416.8,314.0 L1417.5,316.3 L1418.2,318.7 L1418.9,321.0 L1419.6,323.4 L1420.3,325.7 L1421.0,328.1 L1421.7,330.5 L1422.4,332.8 L1423.1,335.2 L1423.8,337.5 L1424.4,339.9 L1425.1,342.3 L1425.8,344.6 L1426.5,347.0 L1427.2,349.4 L1427.8,351.7 L1428.5,354.1 L1429.2,356.5 L1429.8,358.8 L1430.5,361.2 L1431.2,363.6 L1431.8,365.9 L1432.5,368.3 L1433.2,370.7 L1433.8,373.0 L1434.5,375.4 L1435.1,377.8 L1435.8,380.1 L1436.4,382.5 L1437.1,384.9 L1437.7,387.3 L1438.4,389.6 L1439.0,392.0 L1439.7,394.4 L1440.3,396.8 L1440.9,399.1 L1441.6,401.5 L1442.2,403.9 L1442.9,406.3 L1443.5,408.6 L1444.1,411.0 L1444.8,413.4 L1445.4,415.8 L1446.0,418.1 L1446.6,420.5 L1447.3,422.9 L1447.9,425.3 L1448.5,427.7 L1449.2,430.0 L1449.8,432.4 L1450.4,434.8 L1451.0,437.2 L1451.7,439.6 L1452.3,441.9 L1452.9,444.3 L1453.5,446.7 L1454.1,449.1 L1454.8,451.5 L1455.4,453.9 L1456.0,456.2 L1456.6,458.6 L1457.2,461.0 L1457.8,463.4 L1458.4,465.8 L1459.1,468.2 L1459.7,470.5 L1460.3,472.9 L1460.9,475.3 L1461.5,477.7 L1462.1,480.1 L1462.7,482.5 L1463.3,484.8 L1464.0,487.2 L1464.6,489.6 L1465.2,492.0 L1465.8,494.4 L1466.4,496.8 L1467.0,499.2 L1467.6,501.5 L1468.2,503.9 L1468.8,506.3 L1469.4,508.7 L1470.1,511.1 L1470.7,513.5 L1471.3,515.9 L1471.9,518.2 L1472.5,520.6 L1473.1,523.0 L1473.7,525.4 L1474.3,527.8 L1474.9,530.2 L1475.5,532.6 L1476.2,534.9 L1476.8,537.3 L1477.4,539.7 L1478.0,542.1 L1478.6,544.5 L1479.2,546.9 L1479.8,549.3 L1480.4,551.6 L1481.0,554.0 L1481.7,556.4 L1482.3,558.8 L1482.9,561.2 L1483.5,563.6 L1484.1,566.0 L1484.7,568.3 L1485.3,570.7 L1486.0,573.1 L1486.6,575.5 L1487.2,577.9 L1487.8,580.3 L1488.4,582.7 L1489.0,585.0 L1489.6,587.4 L1490.3,589.8 L1490.9,592.2 L1491.5,594.6 L1492.1,597.0 L1492.7,599.3 L1493.3,601.7 L1493.9,604.1 L1494.6,606.5 L1495.2,608.9 L1495.8,611.3 L1496.4,613.7 L1497.0,616.0 L1497.7,618.4 L1498.3,620.8 L1498.9,623.2 L1499.5,625.6 L1500.1,628.0 L1500.8,630.3 L1501.4,632.7 L1502.0,635.1 L1502.6,637.5 L1503.2,639.9 L1503.9,642.3 L1504.5,644.6 L1505.1,647.0 L1505.7,649.4 L1506.3,651.8 L1507.0,654.2 L1507.6,656.5 L1508.2,658.9 L1508.8,661.3 L1509.5,663.7 L1510.1,666.1 L1510.7,668.5 L1511.3,670.8 L1512.0,673.2 L1512.6,675.6 L1513.2,678.0 L1513.8,680.4 L1514.5,682.7 L1515.1,685.1 L1515.7,687.5 L1516.4,689.9 L1517.0,692.3 L1517.6,694.7 L1518.2,697.0 L1518.9,699.4 L1519.5,701.8 L1520.1,704.2 L1520.8,706.6 L1521.4,708.9 L1522.0,711.3 L1522.7,713.7 L1523.3,716.1 L1523.9,718.4 L1524.6,720.8 L1525.2,723.2 L1525.8,725.6 L1526.5,728.0 L1527.1,730.3 L1527.7,732.7 L1528.4,735.1 L1529.0,737.5 L1529.6,739.9 L1530.3,742.2 L1530.9,744.6 L1531.6,747.0 L1532.2,749.4 L1532.8,751.7 L1533.5,754.1 L1534.1,756.5 L1534.8,758.9 L1535.4,761.2 L1536.0,763.6 L1536.7,766.0 L1537.3,768.4 L1538.0,770.7 L1538.6,773.1 L1539.3,775.5 L1539.9,777.9 L1540.5,780.2 L1541.2,782.6 L1541.8,785.0 L1542.5,787.4 L1543.1,789.7 L1543.8,792.1 L1544.4,794.5 L1545.1,796.9 L1545.7,799.2 L1546.4,801.6 L1547.0,804.0 L1547.7,806.4 L1548.3,808.7 L1549.0,811.1 L1549.6,813.5 L1550.3,815.8 L1550.9,818.2 L1551.6,820.6 L1552.3,823.0 L1552.9,825.3 L1553.6,827.7 L1554.2,830.1 L1554.9,832.4 L1555.5,834.8 L1556.2,837.2 L1556.9,839.5 L1557.5,841.9 L1558.2,844.3 L1558.8,846.7 L1559.5,849.0 L1560.2,851.4 L1560.8,853.8 L1561.5,856.1 L1562.2,858.5 L1562.8,860.9 L1563.5,863.2 L1564.2,865.6 L1564.8,868.0 L1565.5,870.3 L1566.2,872.7 L1566.9,875.1 L1567.5,877.4 L1568.2,879.8 L1568.9,882.1 L1569.6,884.5 L1570.2,886.9 L1570.9,889.2 L1571.6,891.6 L1572.3,894.0 L1573.0,896.3 L1573.7,898.7 L1574.4,901.0 L1575.0,903.4 L1575.7,905.7 L1576.4,908.1 L1577.1,910.5 L1577.8,912.8 L1578.5,915.2 L1579.2,917.5 L1579.9,919.9 L1580.6,922.2 L1581.3,924.6 L1582.1,926.9 L1582.8,929.3 L1583.5,931.6 L1584.2,934.0 L1584.9,936.3 L1585.6,938.7 L1586.4,941.0 L1587.1,943.4 L1587.8,945.7 L1588.5,948.1 L1589.3,950.4 L1590.0,952.8 L1590.8,955.1 L1591.5,957.4 L1592.2,959.8 L1593.0,962.1 L1593.7,964.5 L1594.5,966.8 L1595.2,969.1 L1596.0,971.5 L1596.8,973.8 L1597.5,976.1 L1598.3,978.5 L1599.1,980.8 L1599.8,983.1 L1600.6,985.5 L1601.4,987.8 L1602.2,990.1 L1603.0,992.4 L1603.7,994.8 L1604.5,997.1 L1605.3,999.4 L1606.1,1001.7 L1606.9,1004.1 L1607.7,1006.4 L1608.5,1008.7 L1609.4,1011.0 L1610.2,1013.3 L1611.0,1015.7 L1611.8,1018.0 L1612.6,1020.3 L1613.5,1022.6 L1614.3,1024.9 L1615.1,1027.2 L1616.0,1029.5 L1616.8,1031.8 L1617.7,1034.1 L1618.5,1036.4 L1619.4,1038.7 L1620.3,1041.0 L1621.1,1043.3 L1622.0,1045.6 L1622.9,1047.9 L1623.7,1050.2 L1624.6,1052.5 L1625.5,1054.8 L1626.4,1057.1 L1627.3,1059.4 L1628.2,1061.7 L1629.1,1064.0 L1630.0,1066.3 L1630.9,1068.5 L1631.8,1070.8 L1632.8,1073.1 L1633.7,1075.4 L1634.6,1077.7 L1635.6,1079.9 L1636.5,1082.2 L1637.5,1084.5 L1638.4,1086.8 L1639.4,1089.0 L1640.3,1091.3 L1641.3,1093.6 L1642.3,1095.8 L1643.2,1098.1 L1644.2,1100.4 L1645.2,1102.6 L1646.2,1104.9 L1647.2,1107.1 L1648.2,1109.4 L1649.2,1111.6 L1650.2,1113.9 L1651.2,1116.2 L1652.3,1118.4 L1653.3,1120.6 L1654.3,1122.9 L1655.4,1125.1 L1656.4,1127.4 L1657.5,1129.6 L1658.5,1131.8 L1659.6,1134.1 L1660.7,1136.3 L1661.7,1138.6 L1662.8,1140.8 L1663.9,1143.0 L1665.0,1145.2 L1666.1,1147.5 L1667.2,1149.7 L1668.3,1151.9 L1669.4,1154.1 L1670.6,1156.3 L1671.7,1158.5 L1672.8,1160.7 L1674.0,1162.9 L1675.1,1165.1 L1676.3,1167.3 L1677.5,1169.5 L1678.6,1171.7 L1679.8,1173.9 L1681.0,1176.0 L1682.2,1178.2 L1683.4,1180.4 L1684.6,1182.5 L1685.8,1184.7 L1687.1,1186.8 L1688.3,1189.0 L1689.6,1191.1 L1690.8,1193.3 L1692.1,1195.4 L1693.4,1197.5 L1694.6,1199.6 L1695.9,1201.7 L1697.2,1203.9 L1698.5,1206.0 L1699.8,1208.0 L1701.2,1210.1 L1702.5,1212.2 L1703.9,1214.3 L1705.2,1216.3 L1706.6,1218.4 L1707.9,1220.4 L1709.3,1222.5 L1710.7,1224.5 L1712.1,1226.6 L1713.5,1228.6 L1715.0,1230.6 L1716.4,1232.6 L1717.8,1234.6 L1719.3,1236.6 L1720.8,1238.5 L1722.2,1240.5 L1723.7,1242.5 L1725.2,1244.4 L1726.7,1246.4 L1728.3,1248.3 L1729.8,1250.2 L1731.3,1252.1 L1732.9,1254.0 L1734.5,1255.9 L1736.0,1257.8 L1737.6,1259.7 L1739.2,1261.5 L1740.9,1263.4 L1742.5,1265.2 L1744.1,1267.0 L1745.8,1268.9 L1747.4,1270.7 L1749.1,1272.5 L1750.8,1274.2 L1752.5,1276.0 L1754.2,1277.8 L1755.9,1279.5 L1757.6,1281.3 L1759.4,1283.0 L1761.1,1284.7 L1762.9,1286.4 L1764.6,1288.1 L1766.4,1289.8 L1768.2,1291.5 L1770.0,1293.2 L1771.8,1294.8 L1773.7,1296.5 L1775.5,1298.1 L1777.3,1299.7 L1779.2,1301.3 L1781.1,1302.9 L1782.9,1304.5 L1784.8,1306.1 L1786.7,1307.6 L1788.6,1309.2 L1790.5,1310.7 L1792.5,1312.2 L1794.4,1313.7 L1796.3,1315.2 L1798.3,1316.7 L1800.2,1318.2 L1802.2,1319.6 L1804.2,1321.1 L1806.2,1322.5 L1808.2,1323.9 L1810.2,1325.4 L1812.2,1326.7 L1814.2,1328.1 L1816.2,1329.5 L1818.3,1330.9 L1820.3,1332.2 L1822.4,1333.5 L1824.4,1334.9 L1826.5,1336.2 L1828.6,1337.5 L1830.7,1338.7 L1832.8,1340.0 L1834.9,1341.3 L1837.0,1342.5 L1839.1,1343.7 L1841.3,1344.9 L1843.4,1346.1 L1845.5,1347.3 L1847.7,1348.5 L1849.8,1349.6 L1852.0,1350.8 L1854.2,1351.9 L1856.4,1353.0 L1858.5,1354.1 L1860.7,1355.2 L1862.9,1356.3 L1865.2,1357.3 L1867.4,1358.4 L1869.6,1359.4 L1871.8,1360.4 L1874.0,1361.4 L1876.3,1362.4 L1878.5,1363.4 L1880.8,1364.3 L1883.0,1365.3 L1885.3,1366.2 L1887.6,1367.1 L1889.9,1368.0 L1892.1,1368.9 L1894.4,1369.8 L1896.7,1370.6 L1899.0,1371.5 L1901.3,1372.3 L1903.6,1373.1 L1906.0,1373.9 L1908.3,1374.7 L1910.6,1375.4 L1913.0,1376.2 L1915.3,1376.9 L1917.6,1377.6 L1920.0,1378.3 L1922.3,1379.0 L1924.7,1379.7 L1927.1,1380.3 L1929.4,1381.0 L1931.8,1381.6 L1934.2,1382.2 L1936.5,1382.8 L1938.9,1383.3 L1941.3,1383.9 L1943.7,1384.4 L1946.1,1385.0 L1948.5,1385.5 L1950.9,1386.0 L1953.3,1386.4 L1955.7,1386.9 L1958.2,1387.4 L1960.6,1387.8 L1963.0,1388.2 L1965.4,1388.6 L1967.9,1389.0 L1970.3,1389.4 L1972.7,1389.8 L1975.2,1390.1 L1977.6,1390.5 L1980.1,1390.8 L1982.5,1391.1 L1985.0,1391.4 L1987.4,1391.7 L1989.9,1392.0 L1992.3,1392.3 L1994.8,1392.5 L1997.3,1392.8 L1999.7,1393.0 L2002.2,1393.3 L2004.7,1393.5 L2007.1,1393.7 L2009.6,1393.9 L2012.1,1394.1 L2014.6,1394.3 L2017.0,1394.5 L2019.5,1394.7 L2022.0,1394.8 L2024.5,1395.0 L2027.0,1395.1 L2029.5,1395.3 L2032.0,1395.4 L2034.4,1395.5 L2036.9,1395.7 L2039.4,1395.8 L2041.9,1395.9 L2044.4,1396.0 L2046.9,1396.1 L2049.4,1396.2 L2051.9,1396.3 L2054.4,1396.4 L2056.9,1396.5 L2059.4,1396.5 L2061.9,1396.6 L2064.4,1396.7 L2066.9,1396.7 L2069.4,1396.8 L2071.9,1396.9 L2074.4,1396.9 L2076.8,1397.0 L2079.3,1397.1 L2081.8,1397.1 L2084.3,1397.2 L2086.8,1397.2 L2089.3,1397.3 L2091.8,1397.3 L2094.3,1397.4 L2096.8,1397.4 L2099.3,1397.5 L2101.8,1397.5 L2104.2,1397.6 L2106.7,1397.6 L2109.2,1397.7 L2111.7,1397.7 L2114.2,1397.8 L2116.7,1397.8 L2119.1,1397.9 L2121.6,1398.0 L2124.1,1398.0 L2126.5,1398.1 L2129.0,1398.2 L2131.5,1398.3 L2133.9,1398.3 L2136.4,1398.4 L2138.9,1398.5 L2141.3,1398.6 L2143.8,1398.7 L2146.2,1398.8 L2148.7,1398.9 L2151.1,1399.0 L2153.6,1399.1 L2156.0,1399.3 L2158.4,1399.4 L2160.9,1399.5 L2163.3,1399.7 L2165.7,1399.8 L2168.2,1400.0 L2170.6,1400.1 L2173.0,1400.3 L2175.4,1400.5 L2177.8,1400.7 L2180.2,1400.9 L2182.6,1401.1 L2185.0,1401.3 L2187.4,1401.5 L2189.8,1401.8 L2192.2,1402.0 L2194.6,1402.3 L2196.9,1402.5 L2198.7,1402.7"/>
<path stroke="#0000FF" stroke-linecap="round" d="M230.5,1361.9 L232.3,1361.9 L234.2,1361.6 L236.0,1361.3 L237.8,1361.0 L239.6,1360.7 L241.5,1360.4 L243.3,1360.1 L245.1,1359.7 L246.9,1359.3 L248.7,1358.9 L250.5,1358.6 L252.3,1358.1 L254.1,1357.7 M288.7,1347.0 L290.4,1346.3 L292.1,1345.7 L293.9,1345.0 L295.6,1344.4 L297.3,1343.7 L299.0,1343.0 L300.7,1342.3 L302.4,1341.6 L304.1,1340.9 L305.8,1340.2 L307.5,1339.5 L309.2,1338.7 L310.9,1338.0 M343.7,1323.2 L345.4,1322.4 L347.0,1321.6 L348.7,1320.9 L350.4,1320.1 L352.1,1319.3 L353.8,1318.6 L355.4,1317.8 L357.1,1317.0 L358.8,1316.3 L360.5,1315.5 L362.2,1314.7 L363.8,1314.0 L365.5,1313.2 M398.7,1298.4 L400.4,1297.6 L402.1,1296.8 L403.8,1296.1 L405.5,1295.3 L407.1,1294.6 L408.8,1293.8 L410.5,1293.0 L412.2,1292.2 L413.8,1291.5 L415.5,1290.7 L417.2,1289.9 L418.9,1289.1 L420.5,1288.4 M454.3,1271.6 L455.9,1270.7 L457.5,1269.9 L459.2,1269.0 L460.8,1268.1 L462.4,1267.2 L464.0,1266.3 L465.6,1265.4 L467.2,1264.5 L468.8,1263.6 L470.4,1262.7 L472.0,1261.8 L473.6,1260.8 L475.2,1259.9 M505.6,1240.2 L507.1,1239.1 L508.6,1238.0 L510.1,1236.9 L511.5,1235.8 L513.0,1234.7 L514.5,1233.6 L516.0,1232.5 L517.4,1231.4 L518.9,1230.2 L520.4,1229.1 L521.8,1228.0 L523.3,1226.8 L524.7,1225.7 M551.6,1201.7 L552.9,1200.4 L554.2,1199.1 L555.5,1197.8 L556.8,1196.5 L558.1,1195.2 L559.4,1193.8 L560.6,1192.5 L561.9,1191.1 L563.1,1189.8 L564.4,1188.4 L565.6,1187.1 L566.9,1185.7 L568.1,1184.3 M590.8,1155.5 L591.9,1154.0 L592.9,1152.5 L593.9,1151.0 L595.0,1149.4 L596.0,1147.9 L597.0,1146.4 L598.0,1144.8 L599.0,1143.2 L600.0,1141.7 L601.0,1140.1 L601.9,1138.6 L602.9,1137.0 L603.9,1135.4 M622.3,1102.4 L623.2,1100.7 L624.0,1099.1 L624.9,1097.5 L625.7,1095.8 L626.6,1094.2 L627.4,1092.5 L628.3,1090.9 L629.1,1089.3 L629.9,1087.6 L630.8,1086.0 L631.6,1084.3 L632.4,1082.7 L633.3,1081.0 M649.2,1049.2 L650.0,1047.5 L650.8,1045.9 L651.6,1044.2 L652.5,1042.6 L653.3,1041.0 L654.1,1039.3 L655.0,1037.7 L655.8,1036.0 L656.6,1034.4 L657.5,1032.7 L658.3,1031.1 L659.1,1029.4 L660.0,1027.8 M677.3,995.0 L678.2,993.3 L679.1,991.7 L680.0,990.1 L680.9,988.5 L681.8,986.9 L682.7,985.3 L683.6,983.7 L684.5,982.1 L685.4,980.5 L686.4,978.9 L687.3,977.3 L688.2,975.7 L689.1,974.1 M708.4,943.3 L709.4,941.7 L710.4,940.2 L711.5,938.7 L712.5,937.2 L713.6,935.6 L714.6,934.1 L715.7,932.6 L716.7,931.1 L717.8,929.6 L718.9,928.1 L720.0,926.6 L721.1,925.1 L722.2,923.6 M746.9,896.9 L748.3,895.7 L749.8,894.6 L751.3,893.5 L752.8,892.4 L754.3,891.4 L755.9,890.4 L757.4,889.5 L759.0,888.5 L760.7,887.6 L762.3,886.8 L764.0,886.0 L765.7,885.2 L767.4,884.5 M801.4,875.6 L803.2,875.2 L805.0,874.7 L806.8,874.2 L808.6,873.7 L810.3,873.1 L812.1,872.6 L813.8,871.9 L815.5,871.3 L817.3,870.6 L819.0,869.9 L820.6,869.1 L822.3,868.3 L824.0,867.5 M852.7,845.7 L854.0,844.3 L855.2,842.9 L856.5,841.6 L857.7,840.2 L858.8,838.7 L860.0,837.3 L861.1,835.8 L862.2,834.4 L863.3,832.9 L864.4,831.4 L865.5,829.9 L866.5,828.3 L867.5,826.8 M884.4,794.5 L885.1,792.8 L885.8,791.1 L886.5,789.4 L887.2,787.7 L887.9,786.0 L888.6,784.3 L889.2,782.5 L889.9,780.8 L890.5,779.1 L891.2,777.4 L891.8,775.6 L892.5,773.9 L893.1,772.2 M905.0,736.9 L905.6,735.2 L906.1,733.4 L906.7,731.7 L907.2,729.9 L907.8,728.1 L908.3,726.4 L908.9,724.6 L909.4,722.8 L909.9,721.1 L910.4,719.3 L911.0,717.5 L911.5,715.7 L912.0,714.0 M921.6,679.0 L922.1,677.2 L922.5,675.4 L923.0,673.6 L923.5,671.9 L923.9,670.1 L924.4,668.3 L924.8,666.5 L925.3,664.7 L925.7,662.9 L926.2,661.1 L926.6,659.3 L927.0,657.5 L927.5,655.7 M936.0,619.3 L936.4,617.5 L936.8,615.7 L937.2,613.9 L937.6,612.1 L938.0,610.3 L938.4,608.5 L938.8,606.7 L939.2,604.9 L939.6,603.1 L940.0,601.3 L940.4,599.5 L940.8,597.7 L941.2,595.9 M948.8,559.9 L949.2,558.1 L949.6,556.3 L949.9,554.5 L950.3,552.7 L950.7,550.9 L951.0,549.1 L951.4,547.3 L951.8,545.5 L952.1,543.6 L952.5,541.8 L952.9,540.0 L953.2,538.2 L953.6,536.4 M960.6,500.3 L961.0,498.5 L961.3,496.7 L961.7,494.9 L962.0,493.1 L962.4,491.3 L962.7,489.5 L963.0,487.7 L963.4,485.8 L963.7,484.0 L964.1,482.2 L964.4,480.4 L964.8,478.6 L965.1,476.8 M971.7,441.2 L972.0,439.4 L972.3,437.6 L972.7,435.7 L973.0,433.9 L973.3,432.1 L973.7,430.3 L974.0,428.5 L974.3,426.7 L974.6,424.8 L975.0,423.0 L975.3,421.2 L975.6,419.4 L976.0,417.6 M982.4,381.8 L982.7,380.0 L983.0,378.2 L983.3,376.4 L983.7,374.6 L984.0,372.7 L984.3,370.9 L984.7,369.1 L985.0,367.3 L985.3,365.5 L985.6,363.7 L986.0,361.8 L986.3,360.0 L986.6,358.2 M993.1,322.3 L993.4,320.5 L993.7,318.7 L994.0,316.9 L994.4,315.1 L994.7,313.2 L995.0,311.4 L995.4,309.6 L995.7,307.8 L996.0,306.0 L996.3,304.2 L996.7,302.3 L997.0,300.5 L997.3,298.7 M1004.1,262.3 L1004.4,260.5 L1004.8,258.7 L1005.1,256.9 L1005.5,255.1 L1005.8,253.3 L1006.2,251.4 L1006.5,249.6 L1006.8,247.8 L1007.2,246.0 L1007.5,244.2 L1007.9,242.4 L1008.2,240.6 L1008.6,238.8 M1015.9,201.6 L1016.3,199.8 L1016.6,198.0 L1017.0,196.2 L1017.4,194.4 L1017.7,192.6 L1018.1,190.8 L1018.5,189.0 L1018.9,187.2 L1019.2,185.3 L1019.6,183.5 L1020.0,181.7 L1020.4,179.9 L1020.7,178.1 M1028.4,142.5 L1028.8,140.7 L1029.2,138.9 L1029.6,137.1 L1030.1,135.3 L1030.5,133.5 L1030.9,131.7 L1031.3,129.9 L1031.8,128.1 L1032.2,126.3 L1032.6,124.5 L1033.1,122.7 L1033.5,120.9 L1034.0,119.1 M1045.3,83.8 L1045.9,82.1 L1046.6,80.4 L1047.3,78.6 L1048.0,76.9 L1048.7,75.2 L1049.5,73.5 L1050.2,71.9 L1051.0,70.2 L1051.7,68.5 L1052.5,66.8 L1053.3,65.2 L1054.2,63.5 L1055.1,61.9 M1080.3,59.1 L1081.3,60.6 L1082.2,62.2 L1083.1,63.8 L1084.0,65.5 L1084.8,67.1 L1085.6,68.8 L1086.3,70.5 L1087.0,72.2 L1087.7,73.9 L1088.4,75.6 L1089.0,77.4 L1089.6,79.1 L1090.2,80.8 M1099.9,116.7 L1100.3,118.5 L1100.7,120.3 L1101.0,122.1 L1101.4,123.9 L1101.7,125.7 L1102.1,127.5 L1102.4,129.4 L1102.8,131.2 L1103.1,133.0 L1103.5,134.8 L1103.8,136.6 L1104.2,138.4 L1104.5,140.2 M1111.7,176.9 L1112.0,178.7 L1112.4,180.5 L1112.7,182.3 L1113.0,184.2 L1113.4,186.0 L1113.7,187.8 L1114.0,189.6 L1114.4,191.4 L1114.7,193.2 L1115.0,195.1 L1115.3,196.9 L1115.6,198.7 L1116.0,200.5 M1121.4,235.2 L1121.7,237.1 L1121.9,238.9 L1122.2,240.7 L1122.5,242.5 L1122.7,244.4 L1123.0,246.2 L1123.2,248.0 L1123.5,249.9 L1123.7,251.7 L1124.0,253.5 L1124.2,255.3 L1124.5,257.2 L1124.7,259.0 M1129.9,297.7 L1130.1,299.6 L1130.4,301.4 L1130.6,303.2 L1130.9,305.0 L1131.1,306.9 L1131.3,308.7 L1131.6,310.5 L1131.8,312.4 L1132.1,314.2 L1132.3,316.0 L1132.5,317.9 L1132.8,319.7 L1133.0,321.5 M1137.4,356.0 L1137.6,357.8 L1137.9,359.7 L1138.1,361.5 L1138.3,363.3 L1138.6,365.2 L1138.8,367.0 L1139.0,368.8 L1139.3,370.7 L1139.5,372.5 L1139.7,374.3 L1139.9,376.2 L1140.2,378.0 L1140.4,379.8 M1145.0,417.0 L1145.2,418.9 L1145.4,420.7 L1145.7,422.5 L1145.9,424.4 L1146.1,426.2 L1146.3,428.0 L1146.6,429.9 L1146.8,431.7 L1147.0,433.5 L1147.2,435.4 L1147.4,437.2 L1147.7,439.0 L1147.9,440.9 M1152.3,477.5 L1152.5,479.3 L1152.7,481.2 L1152.9,483.0 L1153.1,484.8 L1153.4,486.7 L1153.6,488.5 L1153.8,490.3 L1154.0,492.2 L1154.2,494.0 L1154.4,495.8 L1154.7,497.7 L1154.9,499.5 L1155.1,501.3 M1159.3,537.3 L1159.5,539.2 L1159.7,541.0 L1160.0,542.8 L1160.2,544.7 L1160.4,546.5 L1160.6,548.3 L1160.8,550.2 L1161.0,552.0 L1161.2,553.8 L1161.4,555.7 L1161.7,557.5 L1161.9,559.3 L1162.1,561.2 M1166.4,597.8 L1166.6,599.6 L1166.8,601.5 L1167.0,603.3 L1167.2,605.1 L1167.4,607.0 L1167.6,608.8 L1167.9,610.6 L1168.1,612.5 L1168.3,614.3 L1168.5,616.1 L1168.7,618.0 L1168.9,619.8 L1169.1,621.6 M1173.5,658.9 L1173.7,660.7 L1174.0,662.5 L1174.2,664.4 L1174.4,666.2 L1174.6,668.0 L1174.8,669.9 L1175.0,671.7 L1175.3,673.5 L1175.5,675.4 L1175.7,677.2 L1175.9,679.0 L1176.1,680.9 L1176.4,682.7 M1180.5,717.3 L1180.8,719.2 L1181.0,721.0 L1181.2,722.8 L1181.4,724.7 L1181.7,726.5 L1181.9,728.3 L1182.1,730.2 L1182.3,732.0 L1182.6,733.8 L1182.8,735.7 L1183.0,737.5 L1183.2,739.3 L1183.5,741.2 M1188.2,779.0 L1188.4,780.8 L1188.7,782.6 L1188.9,784.5 L1189.2,786.3 L1189.4,788.1 L1189.6,790.0 L1189.9,791.8 L1190.1,793.6 L1190.3,795.5 L1190.6,797.3 L1190.8,799.1 L1191.0,801.0 L1191.3,802.8 M1196.1,839.3 L1196.4,841.1 L1196.6,842.9 L1196.9,844.8 L1197.1,846.6 L1197.4,848.4 L1197.6,850.3 L1197.9,852.1 L1198.1,853.9 L1198.4,855.7 L1198.6,857.6 L1198.9,859.4 L1199.1,861.2 L1199.4,863.1 M1204.5,899.5 L1204.8,901.3 L1205.1,903.2 L1205.3,905.0 L1205.6,906.8 L1205.9,908.6 L1206.1,910.5 L1206.4,912.3 L1206.7,914.1 L1206.9,916.0 L1207.2,917.8 L1207.5,919.6 L1207.7,921.4 L1208.0,923.3 M1213.5,959.0 L1213.7,960.9 L1214.0,962.7 L1214.3,964.5 L1214.6,966.3 L1214.9,968.2 L1215.2,970.0 L1215.5,971.8 L1215.7,973.6 L1216.0,975.4 L1216.3,977.3 L1216.6,979.1 L1216.9,980.9 L1217.2,982.7 M1223.1,1018.5 L1223.4,1020.3 L1223.7,1022.1 L1224.0,1023.9 L1224.3,1025.8 L1224.6,1027.6 L1224.9,1029.4 L1225.3,1031.2 L1225.6,1033.0 L1225.9,1034.8 L1226.2,1036.7 L1226.5,1038.5 L1226.8,1040.3 L1227.2,1042.1 M1233.8,1078.4 L1234.2,1080.2 L1234.5,1082.0 L1234.9,1083.8 L1235.2,1085.6 L1235.6,1087.5 L1236.0,1089.3 L1236.3,1091.1 L1236.7,1092.9 L1237.0,1094.7 L1237.4,1096.5 L1237.8,1098.3 L1238.2,1100.1 L1238.5,1101.9 M1246.5,1137.9 L1246.9,1139.7 L1247.3,1141.5 L1247.8,1143.3 L1248.2,1145.1 L1248.6,1146.9 L1249.1,1148.7 L1249.5,1150.5 L1249.9,1152.3 L1250.4,1154.1 L1250.8,1155.9 L1251.3,1157.6 L1251.7,1159.4 L1252.2,1161.2 M1261.9,1196.2 L1262.4,1197.9 L1262.9,1199.7 L1263.5,1201.5 L1264.0,1203.2 L1264.6,1205.0 L1265.1,1206.8 L1265.7,1208.5 L1266.2,1210.3 L1266.8,1212.0 L1267.3,1213.8 L1267.9,1215.6 L1268.5,1217.3 L1269.0,1219.1 M1281.5,1253.1 L1282.2,1254.8 L1283.0,1256.5 L1283.7,1258.2 L1284.4,1259.9 L1285.2,1261.5 L1285.9,1263.2 L1286.7,1264.9 L1287.4,1266.6 L1288.2,1268.3 L1289.0,1269.9 L1289.8,1271.6 L1290.6,1273.3 L1291.4,1274.9 M1309.9,1306.2 L1310.9,1307.7 L1312.0,1309.2 L1313.1,1310.7 L1314.2,1312.2 L1315.3,1313.7 L1316.4,1315.1 L1317.6,1316.6 L1318.7,1318.0 L1319.9,1319.5 L1321.1,1320.9 L1322.3,1322.3 L1323.5,1323.7 L1324.7,1325.1 M1351.0,1349.7 L1352.5,1350.9 L1354.0,1351.9 L1355.5,1353.0 L1357.0,1354.1 L1358.5,1355.1 L1360.1,1356.2 L1361.6,1357.2 L1363.2,1358.1 L1364.8,1359.1 L1366.3,1360.1 L1367.9,1361.0 L1369.5,1361.9 L1371.2,1362.8 M1405.3,1376.4 L1407.1,1376.9 L1408.9,1377.3 L1410.6,1377.8 L1412.4,1378.3 L1414.2,1378.7 L1416.0,1379.2 L1417.8,1379.6 L1419.6,1380.0 L1421.4,1380.4 L1423.2,1380.8 L1425.0,1381.2 L1426.8,1381.6 L1428.6,1382.0 M1464.8,1388.0 L1466.7,1388.2 L1468.5,1388.4 L1470.3,1388.7 L1472.1,1388.9 L1474.0,1389.1 L1475.8,1389.3 L1477.6,1389.5 L1479.5,1389.7 L1481.3,1389.9 L1483.2,1390.1 L1485.0,1390.3 L1486.8,1390.5 L1488.7,1390.7 M1524.6,1393.5 L1526.4,1393.6 L1528.2,1393.7 L1530.1,1393.8 L1531.9,1393.9 L1533.8,1394.0 L1535.6,1394.1 L1537.5,1394.2 L1539.3,1394.2 L1541.2,1394.3 L1543.0,1394.4 L1544.8,1394.5 L1546.7,1394.6 L1548.5,1394.7 M1585.3,1396.0 L1587.2,1396.0 L1589.0,1396.1 L1590.9,1396.1 L1592.7,1396.2 L1594.5,1396.3 L1596.4,1396.3 L1598.2,1396.4 L1600.1,1396.4 L1601.9,1396.5 L1603.8,1396.5 L1605.6,1396.6 L1607.5,1396.7 L1609.3,1396.7 M1646.2,1397.7 L1648.0,1397.8 L1649.9,1397.8 L1651.7,1397.9 L1653.6,1397.9 L1655.4,1398.0 L1657.3,1398.0 L1659.1,1398.0 L1661.0,1398.1 L1662.8,1398.1 L1664.6,1398.2 L1666.5,1398.2 L1668.3,1398.3 L1670.2,1398.3 M1706.4,1399.1 L1708.3,1399.1 L1710.1,1399.2 L1712.0,1399.2 L1713.8,1399.2 L1715.7,1399.3 L1717.5,1399.3 L1719.4,1399.3 L1721.2,1399.4 L1723.0,1399.4 L1724.9,1399.4 L1726.7,1399.5 L1728.6,1399.5 L1730.4,1399.5 M1767.3,1400.1 L1769.2,1400.1 L1771.0,1400.1 L1772.8,1400.1 L1774.7,1400.2 L1776.5,1400.2 L1778.4,1400.2 L1780.2,1400.2 L1782.1,1400.2 L1783.9,1400.3 L1785.8,1400.3 L1787.6,1400.3 L1789.5,1400.3 L1791.3,1400.3 M1827.5,1400.7 L1829.4,1400.7 L1831.2,1400.7 L1833.0,1400.7 L1834.9,1400.7 L1836.7,1400.8 L1838.6,1400.8 L1840.4,1400.8 L1842.3,1400.8 L1844.1,1400.8 L1846.0,1400.8 L1847.8,1400.8 L1849.7,1400.9 L1851.5,1400.9 M1887.7,1401.1 L1889.5,1401.1 L1891.4,1401.1 L1893.2,1401.1 L1895.1,1401.1 L1896.9,1401.1 L1898.8,1401.1 L1900.6,1401.1 L1902.5,1401.1 L1904.3,1401.1 L1906.2,1401.2 L1908.0,1401.2 L1909.8,1401.2 L1911.7,1401.2 M1949.2,1401.3 L1951.0,1401.3 L1952.9,1401.3 L1954.7,1401.3 L1956.6,1401.3 L1958.4,1401.3 L1960.2,1401.3 L1962.1,1401.3 L1963.9,1401.3 L1965.8,1401.3 L1967.6,1401.4 L1969.5,1401.4 L1971.3,1401.4 L1973.2,1401.4 M2009.3,1401.5 L2011.2,1401.5 L2013.0,1401.5 L2014.9,1401.5 L2016.7,1401.5 L2018.6,1401.5 L2020.4,1401.5 L2022.3,1401.5 L2024.1,1401.5 L2026.0,1401.5 L2027.8,1401.5 L2029.6,1401.5 L2031.5,1401.5 L2033.3,1401.5 M2069.5,1401.6 L2071.4,1401.6 L2073.2,1401.7 L2075.1,1401.7 L2076.9,1401.7 L2078.8,1401.7 L2080.6,1401.7 L2082.4,1401.7 L2084.3,1401.7 L2086.1,1401.7 L2088.0,1401.7 L2089.8,1401.7 L2091.7,1401.7 L2093.5,1401.7 M2130.4,1401.9 L2132.2,1402.0 L2134.1,1402.0 L2135.9,1402.0 L2137.8,1402.0 L2139.6,1402.0 L2141.4,1402.0 L2143.3,1402.0 L2145.1,1402.0 L2147.0,1402.1 L2148.8,1402.1 L2150.7,1402.1 L2152.5,1402.1 L2154.4,1402.1 M2191.4,1402.5 L2193.2,1402.5 L2195.1,1402.5 L2196.9,1402.5 L2198.8,1402.5 L2215.4,1402.5"/>
</g>
<g font-size="51.5" font-weight="bold" fill="#000">
<path d="M1574,121.2 H1681" stroke="#00B050" stroke-width="8" stroke-linecap="round" fill="none"/>
<text transform="translate(1693.6,137.3) scale(1,1.035)">626 QDs/MPA PL</text>
<path d="M1574,198.47 H1681" stroke="#FF0000" stroke-width="8" stroke-linecap="round" fill="none"/>
<text transform="translate(1693.6,214.6) scale(1,1.035)">629 QDs/MPA PL</text>
<path d="M1574,275.74 H1681" stroke="#FFC000" stroke-width="8" stroke-linecap="round" fill="none"/>
<text transform="translate(1693.6,291.8) scale(1,1.035)">636 QDs/MPA PL</text>
<path d="M1574,353.01 H1681" stroke="#9500CA" stroke-width="8" stroke-linecap="round" fill="none"/>
<text transform="translate(1693.6,369.1) scale(1,1.035)">671 QDs/MPA PL</text>
<path d="M1574,430.28 H1681" stroke="#0000FF" stroke-width="8" stroke-linecap="round" stroke-dasharray="27 34" fill="none"/>
<text transform="translate(1693.6,446.4) scale(1,1.035)">Cy5 dye absorbance</text>
</g>
</svg></body></html>
